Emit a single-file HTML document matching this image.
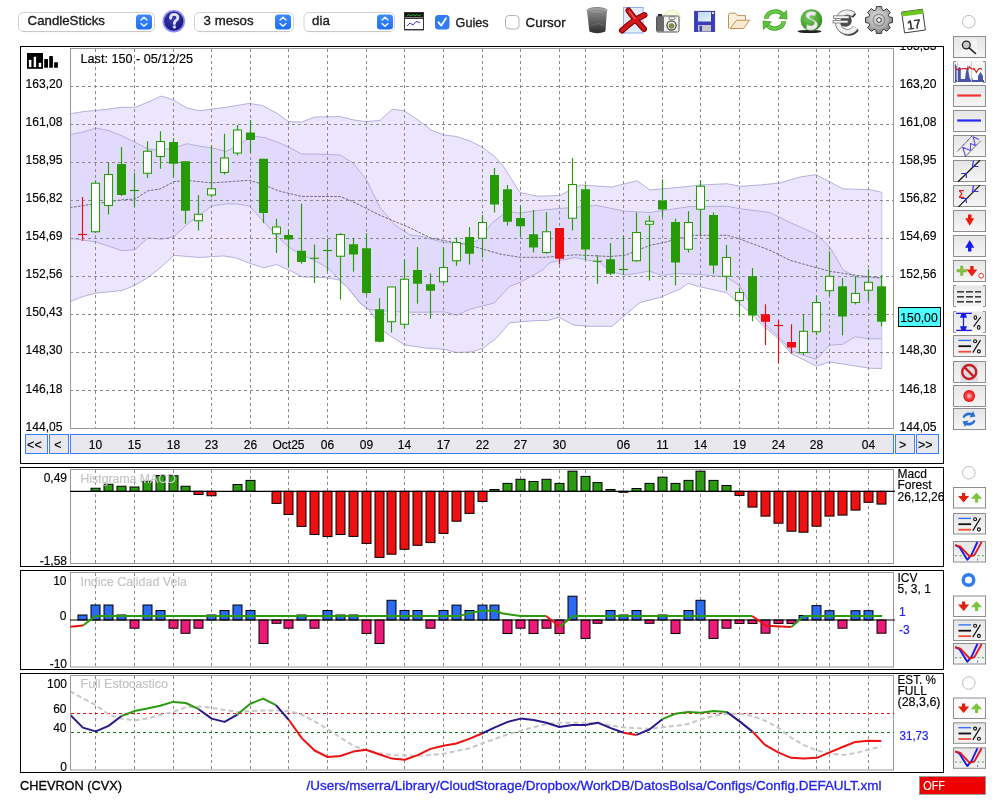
<!DOCTYPE html>
<html><head><meta charset="utf-8"><title>Chart</title>
<style>html,body{margin:0;padding:0;background:#fff;width:1000px;height:800px;overflow:hidden}svg{display:block;will-change:transform}text{font-family:"Liberation Sans",sans-serif}</style>
</head><body>
<svg width="1000" height="800" viewBox="0 0 1000 800">
<rect width="1000" height="800" fill="#fff"/>
<rect x="20.5" y="46.5" width="923" height="417" fill="none" stroke="#000" stroke-width="1"/>
<clipPath id="cpMain"><rect x="71" y="49" width="822" height="379"/></clipPath>
<g clip-path="url(#cpMain)">
<polygon points="70,113.8 83,111.7 109,109.1 122,107.3 135,107.3 148,102.1 161,96.1 172.7,99.5 187,108.1 200,110.7 226,107.3 249.4,103.4 262.4,105.5 278,113.8 288.4,121.6 301.4,122.1 315,117 340,116.6 354,120 366,121.6 380,120.4 392.4,109.2 404,110.8 418,120 431,130 444,135 456,136.4 470,141 482,147 494,156 502.5,165 520,192.5 537.5,196.25 560,195.5 580,185 612,187 637,180.75 650,190 690,186.25 700,185 727,183.75 740,186.25 760,185 780,183 800,177 816,174.7 843,188.9 870,189.7 881.8,192.3 881.8,368.5 869.2,368.2 842.6,364 829.3,362 816.4,366.2 803,359.4 791,353.4 777.5,337.7 764,326.5 752,314.5 740,304 726.5,292.7 699.5,286.7 688.2,283.3 680,289 660,297.5 640,302.5 612,326.25 587,326.25 573.4,325 559,317.3 547,320.6 536,320.6 520.6,321.7 509.6,322.8 496.4,338.2 483.2,348.1 472.2,351.8 456.8,352.5 443.6,349.2 426,348.1 404,344.8 384.2,331.6 368.8,309.6 360,303 347.8,287.8 339,279.9 325,277.6 302.3,276.9 291,271 276.7,264.5 263.7,267.9 249.4,263.2 236.4,258 223.4,255.9 200,257.5 174,255.4 161,267.1 148,277.5 135,285.3 122,290.5 96,293.1 83,296.5 70,301.7" fill="#ebe6fd" stroke="none"/>
<polygon points="70,134.6 83,132 96,128.1 109,130.7 122,135.9 135,142.4 148,148.9 158.4,150.2 174,148.1 187,143.7 200,146.3 213,148.1 226,151.5 239,145 252,135.9 265,137.7 278,142.4 291,148.1 301.4,154.1 317,154.1 340,155 353,163 366,179 380,207.5 395,225 410,235 420,236 432.5,239.5 445,242.5 460,243.75 477.5,241 492.5,222.5 502.5,215 512.5,212 520,213 537.5,210.5 560,208.5 597,205.5 625,211.25 650,212.5 690,206.5 727,206.25 740,208.75 770,212.5 790,222.5 816.7,234.3 830,247.4 843,269.7 856,277.1 881.8,278.1 881.8,338.8 869.2,338.8 855.2,336.7 842.6,344.4 829.3,345.1 816.4,359.4 803,355 791,350.5 777.5,335.5 764,323.5 752,307 740,286 726.5,277 699.5,274.5 675.5,273.5 662.5,275.5 649,271 636.5,273.5 625,275 610,271.25 600,262.5 575,257.5 550,262.5 542.6,270 520.6,282.1 509.6,286.5 494.2,303 470,309.2 456.8,315.1 443.6,311.8 426,312.2 404,312.2 382,310.7 368.8,309.6 360,303 347.8,287.8 339,279 330,269.7 319.6,263.2 304,255.4 291,248.9 278,237.2 263.7,221.6 249.4,206 236.4,203.9 226,203.9 211.7,206 187,224.2 174,236.7 161,239.3 148,237.7 135,249.7 122,250.7 96,241.9 70,238.5" fill="#e2dafc" stroke="none"/>
<polyline points="70,113.8 83,111.7 109,109.1 122,107.3 135,107.3 148,102.1 161,96.1 172.7,99.5 187,108.1 200,110.7 226,107.3 249.4,103.4 262.4,105.5 278,113.8 288.4,121.6 301.4,122.1 315,117 340,116.6 354,120 366,121.6 380,120.4 392.4,109.2 404,110.8 418,120 431,130 444,135 456,136.4 470,141 482,147 494,156 502.5,165 520,192.5 537.5,196.25 560,195.5 580,185 612,187 637,180.75 650,190 690,186.25 700,185 727,183.75 740,186.25 760,185 780,183 800,177 816,174.7 843,188.9 870,189.7 881.8,192.3" fill="none" stroke="#b2acdc" stroke-width="0.95"/>
<polyline points="70,134.6 83,132 96,128.1 109,130.7 122,135.9 135,142.4 148,148.9 158.4,150.2 174,148.1 187,143.7 200,146.3 213,148.1 226,151.5 239,145 252,135.9 265,137.7 278,142.4 291,148.1 301.4,154.1 317,154.1 340,155 353,163 366,179 380,207.5 395,225 410,235 420,236 432.5,239.5 445,242.5 460,243.75 477.5,241 492.5,222.5 502.5,215 512.5,212 520,213 537.5,210.5 560,208.5 597,205.5 625,211.25 650,212.5 690,206.5 727,206.25 740,208.75 770,212.5 790,222.5 816.7,234.3 830,247.4 843,269.7 856,277.1 881.8,278.1" fill="none" stroke="#b2acdc" stroke-width="0.95"/>
<polyline points="70,238.5 96,241.9 122,250.7 135,249.7 148,237.7 161,239.3 174,236.7 187,224.2 211.7,206 226,203.9 236.4,203.9 249.4,206 263.7,221.6 278,237.2 291,248.9 304,255.4 319.6,263.2 330,269.7 339,279 347.8,287.8 360,303 368.8,309.6 382,310.7 404,312.2 426,312.2 443.6,311.8 456.8,315.1 470,309.2 494.2,303 509.6,286.5 520.6,282.1 542.6,270 550,262.5 575,257.5 600,262.5 610,271.25 625,275 636.5,273.5 649,271 662.5,275.5 675.5,273.5 699.5,274.5 726.5,277 740,286 752,307 764,323.5 777.5,335.5 791,350.5 803,355 816.4,359.4 829.3,345.1 842.6,344.4 855.2,336.7 869.2,338.8 881.8,338.8" fill="none" stroke="#b2acdc" stroke-width="0.95"/>
<polyline points="70,301.7 83,296.5 96,293.1 122,290.5 135,285.3 148,277.5 161,267.1 174,255.4 200,257.5 223.4,255.9 236.4,258 249.4,263.2 263.7,267.9 276.7,264.5 291,271 302.3,276.9 325,277.6 339,279.9 347.8,287.8 360,303 368.8,309.6 384.2,331.6 404,344.8 426,348.1 443.6,349.2 456.8,352.5 472.2,351.8 483.2,348.1 496.4,338.2 509.6,322.8 520.6,321.7 536,320.6 547,320.6 559,317.3 573.4,325 587,326.25 612,326.25 640,302.5 660,297.5 680,289 688.2,283.3 699.5,286.7 726.5,292.7 740,304 752,314.5 764,326.5 777.5,337.7 791,353.4 803,359.4 816.4,366.2 829.3,362 842.6,364 869.2,368.2 881.8,368.5" fill="none" stroke="#b2acdc" stroke-width="0.95"/>
<line x1="881.8" y1="192.3" x2="881.8" y2="368.5" stroke="#c4bfe6" stroke-width="1"/>
<line x1="70" y1="390.5" x2="894" y2="390.5" stroke="#8a8a8a" stroke-width="1" stroke-dasharray="3 3"/>
<line x1="70" y1="352.5" x2="894" y2="352.5" stroke="#8a8a8a" stroke-width="1" stroke-dasharray="3 3"/>
<line x1="70" y1="314.5" x2="894" y2="314.5" stroke="#8a8a8a" stroke-width="1" stroke-dasharray="3 3"/>
<line x1="70" y1="276.5" x2="894" y2="276.5" stroke="#8a8a8a" stroke-width="1" stroke-dasharray="3 3"/>
<line x1="70" y1="238.5" x2="894" y2="238.5" stroke="#8a8a8a" stroke-width="1" stroke-dasharray="3 3"/>
<line x1="70" y1="200.5" x2="894" y2="200.5" stroke="#8a8a8a" stroke-width="1" stroke-dasharray="3 3"/>
<line x1="70" y1="162.5" x2="894" y2="162.5" stroke="#8a8a8a" stroke-width="1" stroke-dasharray="3 3"/>
<line x1="70" y1="124.5" x2="894" y2="124.5" stroke="#8a8a8a" stroke-width="1" stroke-dasharray="3 3"/>
<line x1="70" y1="86.5" x2="894" y2="86.5" stroke="#8a8a8a" stroke-width="1" stroke-dasharray="3 3"/>
<line x1="95.5" y1="49" x2="95.5" y2="428" stroke="#8a8a8a" stroke-width="1" stroke-dasharray="3 3"/>
<line x1="134.5" y1="49" x2="134.5" y2="428" stroke="#8a8a8a" stroke-width="1" stroke-dasharray="3 3"/>
<line x1="173.5" y1="49" x2="173.5" y2="428" stroke="#8a8a8a" stroke-width="1" stroke-dasharray="3 3"/>
<line x1="211.5" y1="49" x2="211.5" y2="428" stroke="#8a8a8a" stroke-width="1" stroke-dasharray="3 3"/>
<line x1="250.5" y1="49" x2="250.5" y2="428" stroke="#8a8a8a" stroke-width="1" stroke-dasharray="3 3"/>
<line x1="288.5" y1="49" x2="288.5" y2="428" stroke="#8a8a8a" stroke-width="1" stroke-dasharray="3 3"/>
<line x1="327.5" y1="49" x2="327.5" y2="428" stroke="#8a8a8a" stroke-width="1" stroke-dasharray="3 3"/>
<line x1="366.5" y1="49" x2="366.5" y2="428" stroke="#8a8a8a" stroke-width="1" stroke-dasharray="3 3"/>
<line x1="404.5" y1="49" x2="404.5" y2="428" stroke="#8a8a8a" stroke-width="1" stroke-dasharray="3 3"/>
<line x1="443.5" y1="49" x2="443.5" y2="428" stroke="#8a8a8a" stroke-width="1" stroke-dasharray="3 3"/>
<line x1="482.5" y1="49" x2="482.5" y2="428" stroke="#8a8a8a" stroke-width="1" stroke-dasharray="3 3"/>
<line x1="520.5" y1="49" x2="520.5" y2="428" stroke="#8a8a8a" stroke-width="1" stroke-dasharray="3 3"/>
<line x1="559.5" y1="49" x2="559.5" y2="428" stroke="#8a8a8a" stroke-width="1" stroke-dasharray="3 3"/>
<line x1="585.5" y1="49" x2="585.5" y2="428" stroke="#8a8a8a" stroke-width="1" stroke-dasharray="3 3"/>
<line x1="623.5" y1="49" x2="623.5" y2="428" stroke="#8a8a8a" stroke-width="1" stroke-dasharray="3 3"/>
<line x1="662.5" y1="49" x2="662.5" y2="428" stroke="#8a8a8a" stroke-width="1" stroke-dasharray="3 3"/>
<line x1="700.5" y1="49" x2="700.5" y2="428" stroke="#8a8a8a" stroke-width="1" stroke-dasharray="3 3"/>
<line x1="739.5" y1="49" x2="739.5" y2="428" stroke="#8a8a8a" stroke-width="1" stroke-dasharray="3 3"/>
<line x1="778.5" y1="49" x2="778.5" y2="428" stroke="#8a8a8a" stroke-width="1" stroke-dasharray="3 3"/>
<line x1="816.5" y1="49" x2="816.5" y2="428" stroke="#8a8a8a" stroke-width="1" stroke-dasharray="3 3"/>
<line x1="829.5" y1="49" x2="829.5" y2="428" stroke="#8a8a8a" stroke-width="1" stroke-dasharray="3 3"/>
<line x1="868.5" y1="49" x2="868.5" y2="428" stroke="#8a8a8a" stroke-width="1" stroke-dasharray="3 3"/>
<polyline points="70,207.6 96,203.7 122,199.8 135,199 148,190.7 160,189.05 174,181.6 186,180.3 211.7,182.9 249.4,180.3 262.4,184.2 278,190.7 301.4,196.4 340,196.55 350,200.3 380,215.3 410,227.8 430,237.8 440,239.8 470,245.3 500,254.05 520,257.3 545,257.3 575,254.8 610,256.55 625,255.3 650,245.3 665,242.3 690,235.3 700,235.3 727,235.3 740,239.05 770,250.3 790,260.3 806,264.8 830,271.3 856,275.3 881.8,277.9" fill="none" stroke="#6e6c7c" stroke-width="1" stroke-dasharray="2.7 1.3"/>
<line x1="82.5" y1="197" x2="82.5" y2="240.75" stroke="#ee0b0b" stroke-width="1.15"/>
<line x1="78" y1="234.5" x2="87" y2="234.5" stroke="#ee0b0b" stroke-width="1.15"/>
<line x1="95.5" y1="180.5" x2="95.5" y2="233" stroke="#279b06" stroke-width="1.15"/>
<rect x="91.5" y="183.25" width="8" height="48.5" fill="#fff" stroke="#279b06" stroke-width="1.05"/>
<line x1="108.5" y1="162.5" x2="108.5" y2="214.5" stroke="#279b06" stroke-width="1.15"/>
<rect x="104.5" y="174.5" width="8" height="31" fill="#fff" stroke="#279b06" stroke-width="1.05"/>
<line x1="121.5" y1="147" x2="121.5" y2="196" stroke="#279b06" stroke-width="1.15"/>
<rect x="117" y="164" width="9" height="31" fill="#279b06"/>
<line x1="134.5" y1="173" x2="134.5" y2="207" stroke="#279b06" stroke-width="1.15"/>
<line x1="130" y1="190.5" x2="139" y2="190.5" stroke="#279b06" stroke-width="1.15"/>
<line x1="147.5" y1="141.25" x2="147.5" y2="178" stroke="#279b06" stroke-width="1.15"/>
<rect x="143.5" y="151.25" width="8" height="22" fill="#fff" stroke="#279b06" stroke-width="1.05"/>
<line x1="160.5" y1="131.25" x2="160.5" y2="168.75" stroke="#279b06" stroke-width="1.15"/>
<rect x="156.5" y="141.5" width="8" height="15" fill="#fff" stroke="#279b06" stroke-width="1.05"/>
<line x1="173.5" y1="138.25" x2="173.5" y2="177.5" stroke="#279b06" stroke-width="1.15"/>
<rect x="169" y="142" width="9" height="21.75" fill="#279b06"/>
<line x1="185.5" y1="161.25" x2="185.5" y2="223.75" stroke="#279b06" stroke-width="1.15"/>
<rect x="181" y="161.25" width="9" height="49.5" fill="#279b06"/>
<line x1="198.5" y1="195" x2="198.5" y2="230.5" stroke="#279b06" stroke-width="1.15"/>
<rect x="194.5" y="214.25" width="8" height="6.5" fill="#fff" stroke="#279b06" stroke-width="1.05"/>
<line x1="211.5" y1="145.75" x2="211.5" y2="197.5" stroke="#279b06" stroke-width="1.15"/>
<rect x="207.5" y="188.75" width="8" height="6.25" fill="#fff" stroke="#279b06" stroke-width="1.05"/>
<line x1="224.5" y1="133.75" x2="224.5" y2="174.5" stroke="#279b06" stroke-width="1.15"/>
<rect x="220.5" y="158" width="8" height="14.5" fill="#fff" stroke="#279b06" stroke-width="1.05"/>
<line x1="237.5" y1="125" x2="237.5" y2="155.5" stroke="#279b06" stroke-width="1.15"/>
<rect x="233.5" y="130" width="8" height="23" fill="#fff" stroke="#279b06" stroke-width="1.05"/>
<line x1="250.5" y1="120" x2="250.5" y2="153.25" stroke="#279b06" stroke-width="1.15"/>
<rect x="246" y="132.5" width="9" height="7.5" fill="#279b06"/>
<line x1="263.5" y1="158.75" x2="263.5" y2="223" stroke="#279b06" stroke-width="1.15"/>
<rect x="259" y="158.75" width="9" height="54.25" fill="#279b06"/>
<line x1="276.5" y1="218.75" x2="276.5" y2="253" stroke="#279b06" stroke-width="1.15"/>
<rect x="272.5" y="227" width="8" height="6.75" fill="#fff" stroke="#279b06" stroke-width="1.05"/>
<line x1="288.5" y1="230" x2="288.5" y2="267" stroke="#279b06" stroke-width="1.15"/>
<rect x="284" y="235" width="9" height="4.5" fill="#279b06"/>
<line x1="301.5" y1="203.75" x2="301.5" y2="263.75" stroke="#279b06" stroke-width="1.15"/>
<rect x="297" y="250.75" width="9" height="11.25" fill="#279b06"/>
<line x1="314.5" y1="244.5" x2="314.5" y2="283" stroke="#279b06" stroke-width="1.15"/>
<line x1="310" y1="258.25" x2="319" y2="258.25" stroke="#279b06" stroke-width="1.15"/>
<line x1="327.5" y1="238.75" x2="327.5" y2="271.25" stroke="#279b06" stroke-width="1.15"/>
<line x1="323" y1="250.5" x2="332" y2="250.5" stroke="#279b06" stroke-width="1.15"/>
<line x1="340.5" y1="233.25" x2="340.5" y2="299.5" stroke="#279b06" stroke-width="1.15"/>
<rect x="336.5" y="234.5" width="8" height="21.75" fill="#fff" stroke="#279b06" stroke-width="1.05"/>
<line x1="353.5" y1="238" x2="353.5" y2="271.75" stroke="#279b06" stroke-width="1.15"/>
<rect x="349" y="244.25" width="9" height="10.25" fill="#279b06"/>
<line x1="366.5" y1="233.25" x2="366.5" y2="295" stroke="#279b06" stroke-width="1.15"/>
<rect x="362" y="248.25" width="9" height="44.75" fill="#279b06"/>
<line x1="379.5" y1="298.25" x2="379.5" y2="342.5" stroke="#279b06" stroke-width="1.15"/>
<rect x="375" y="309.25" width="9" height="32.5" fill="#279b06"/>
<line x1="391.5" y1="287" x2="391.5" y2="332.5" stroke="#279b06" stroke-width="1.15"/>
<rect x="387.5" y="287" width="8" height="34.75" fill="#fff" stroke="#279b06" stroke-width="1.05"/>
<line x1="404.5" y1="259.5" x2="404.5" y2="328.75" stroke="#279b06" stroke-width="1.15"/>
<rect x="400.5" y="279.25" width="8" height="45" fill="#fff" stroke="#279b06" stroke-width="1.05"/>
<line x1="417.5" y1="247" x2="417.5" y2="303.75" stroke="#279b06" stroke-width="1.15"/>
<rect x="413" y="270" width="9" height="13.75" fill="#279b06"/>
<line x1="430.5" y1="273.25" x2="430.5" y2="318.75" stroke="#279b06" stroke-width="1.15"/>
<rect x="426" y="284.25" width="9" height="6.5" fill="#279b06"/>
<line x1="443.5" y1="247.5" x2="443.5" y2="283.75" stroke="#279b06" stroke-width="1.15"/>
<rect x="439.5" y="267.5" width="8" height="14.25" fill="#fff" stroke="#279b06" stroke-width="1.05"/>
<line x1="456.5" y1="237.5" x2="456.5" y2="265.75" stroke="#279b06" stroke-width="1.15"/>
<rect x="452.5" y="242.5" width="8" height="18.25" fill="#fff" stroke="#279b06" stroke-width="1.05"/>
<line x1="469.5" y1="227" x2="469.5" y2="264.5" stroke="#279b06" stroke-width="1.15"/>
<rect x="465" y="237" width="9" height="16.75" fill="#279b06"/>
<line x1="482.5" y1="215" x2="482.5" y2="257.5" stroke="#279b06" stroke-width="1.15"/>
<rect x="478.5" y="222.5" width="8" height="15.75" fill="#fff" stroke="#279b06" stroke-width="1.05"/>
<line x1="494.5" y1="168" x2="494.5" y2="212.5" stroke="#279b06" stroke-width="1.15"/>
<rect x="490" y="175" width="9" height="29.5" fill="#279b06"/>
<line x1="507.5" y1="185" x2="507.5" y2="225.5" stroke="#279b06" stroke-width="1.15"/>
<rect x="503" y="189.25" width="9" height="32.5" fill="#279b06"/>
<line x1="520.5" y1="205.5" x2="520.5" y2="236.25" stroke="#279b06" stroke-width="1.15"/>
<rect x="516" y="218" width="9" height="8.25" fill="#279b06"/>
<line x1="533.5" y1="210" x2="533.5" y2="252.5" stroke="#279b06" stroke-width="1.15"/>
<rect x="529" y="234.25" width="9" height="13.25" fill="#279b06"/>
<line x1="546.5" y1="212" x2="546.5" y2="253.75" stroke="#279b06" stroke-width="1.15"/>
<rect x="542.5" y="231.75" width="8" height="20.75" fill="#fff" stroke="#279b06" stroke-width="1.05"/>
<line x1="559.5" y1="228" x2="559.5" y2="264.5" stroke="#ee0b0b" stroke-width="1.15"/>
<rect x="555" y="228" width="9" height="30.75" fill="#ee0b0b"/>
<line x1="572.5" y1="158" x2="572.5" y2="230.5" stroke="#279b06" stroke-width="1.15"/>
<rect x="568.5" y="184.5" width="8" height="33.75" fill="#fff" stroke="#279b06" stroke-width="1.05"/>
<line x1="585.5" y1="184.5" x2="585.5" y2="260" stroke="#279b06" stroke-width="1.15"/>
<rect x="581" y="189.25" width="9" height="60.25" fill="#279b06"/>
<line x1="597.5" y1="255" x2="597.5" y2="283.75" stroke="#279b06" stroke-width="1.15"/>
<line x1="593" y1="261.25" x2="602" y2="261.25" stroke="#279b06" stroke-width="1.15"/>
<line x1="610.5" y1="243" x2="610.5" y2="275" stroke="#279b06" stroke-width="1.15"/>
<rect x="606" y="259.25" width="9" height="14.5" fill="#279b06"/>
<line x1="623.5" y1="235.5" x2="623.5" y2="275" stroke="#279b06" stroke-width="1.15"/>
<line x1="619" y1="269.5" x2="628" y2="269.5" stroke="#279b06" stroke-width="1.15"/>
<line x1="636.5" y1="212.5" x2="636.5" y2="261.75" stroke="#279b06" stroke-width="1.15"/>
<rect x="632.5" y="232.5" width="8" height="28.25" fill="#fff" stroke="#279b06" stroke-width="1.05"/>
<line x1="649.5" y1="215.5" x2="649.5" y2="280.5" stroke="#279b06" stroke-width="1.15"/>
<rect x="645.5" y="221.25" width="8" height="3" fill="#fff" stroke="#279b06" stroke-width="1.05"/>
<line x1="662.5" y1="179.25" x2="662.5" y2="217" stroke="#279b06" stroke-width="1.15"/>
<rect x="658" y="200.5" width="9" height="9" fill="#279b06"/>
<line x1="675.5" y1="218.75" x2="675.5" y2="285.5" stroke="#279b06" stroke-width="1.15"/>
<rect x="671" y="222" width="9" height="40.5" fill="#279b06"/>
<line x1="688.5" y1="211.25" x2="688.5" y2="252.5" stroke="#279b06" stroke-width="1.15"/>
<rect x="684.5" y="222.5" width="8" height="26.75" fill="#fff" stroke="#279b06" stroke-width="1.05"/>
<line x1="700.5" y1="180" x2="700.5" y2="235" stroke="#279b06" stroke-width="1.15"/>
<rect x="696.5" y="186.25" width="8" height="23" fill="#fff" stroke="#279b06" stroke-width="1.05"/>
<line x1="713.5" y1="212.5" x2="713.5" y2="273.75" stroke="#279b06" stroke-width="1.15"/>
<rect x="709" y="215" width="9" height="50.5" fill="#279b06"/>
<line x1="726.5" y1="245" x2="726.5" y2="290.5" stroke="#279b06" stroke-width="1.15"/>
<rect x="722.5" y="257.5" width="8" height="18.75" fill="#fff" stroke="#279b06" stroke-width="1.05"/>
<line x1="739.5" y1="287.5" x2="739.5" y2="317.5" stroke="#279b06" stroke-width="1.15"/>
<rect x="735.5" y="292.5" width="8" height="8" fill="#fff" stroke="#279b06" stroke-width="1.05"/>
<line x1="752.5" y1="268" x2="752.5" y2="321.25" stroke="#279b06" stroke-width="1.15"/>
<rect x="748" y="276.25" width="9" height="39.25" fill="#279b06"/>
<line x1="765.5" y1="304.25" x2="765.5" y2="345" stroke="#ee0b0b" stroke-width="1.15"/>
<rect x="761" y="314.25" width="9" height="7.5" fill="#ee0b0b"/>
<line x1="778.5" y1="320" x2="778.5" y2="363.3" stroke="#ee0b0b" stroke-width="1.15"/>
<line x1="774" y1="325.5" x2="783" y2="325.5" stroke="#ee0b0b" stroke-width="1.15"/>
<line x1="791.5" y1="324.25" x2="791.5" y2="353.5" stroke="#ee0b0b" stroke-width="1.15"/>
<rect x="787" y="342" width="9" height="5.5" fill="#ee0b0b"/>
<line x1="803.5" y1="314.3" x2="803.5" y2="355" stroke="#279b06" stroke-width="1.15"/>
<rect x="799.5" y="331.3" width="8" height="21.2" fill="#fff" stroke="#279b06" stroke-width="1.05"/>
<line x1="816.5" y1="295.6" x2="816.5" y2="335.2" stroke="#279b06" stroke-width="1.15"/>
<rect x="812.5" y="302.5" width="8" height="29.2" fill="#fff" stroke="#279b06" stroke-width="1.05"/>
<line x1="829.5" y1="251.4" x2="829.5" y2="296" stroke="#279b06" stroke-width="1.15"/>
<rect x="825.5" y="276.3" width="8" height="14.4" fill="#fff" stroke="#279b06" stroke-width="1.05"/>
<line x1="842.5" y1="278.1" x2="842.5" y2="335.4" stroke="#279b06" stroke-width="1.15"/>
<rect x="838" y="286.3" width="9" height="30.2" fill="#279b06"/>
<line x1="855.5" y1="276.3" x2="855.5" y2="304.4" stroke="#279b06" stroke-width="1.15"/>
<rect x="851.5" y="293.4" width="8" height="9.1" fill="#fff" stroke="#279b06" stroke-width="1.05"/>
<line x1="868.5" y1="269.2" x2="868.5" y2="301.2" stroke="#279b06" stroke-width="1.15"/>
<rect x="864.5" y="282.3" width="8" height="7.9" fill="#fff" stroke="#279b06" stroke-width="1.05"/>
<line x1="881.5" y1="275" x2="881.5" y2="326.2" stroke="#279b06" stroke-width="1.15"/>
<rect x="877" y="286.3" width="9" height="35.4" fill="#279b06"/>
</g>
<rect x="70.5" y="48.5" width="823" height="380" fill="none" stroke="#999" stroke-width="1"/>
<clipPath id="cpMainF"><rect x="21" y="47" width="922" height="416"/></clipPath>
<g clip-path="url(#cpMainF)" font-family='"Liberation Sans", sans-serif'>
<text x="62.5" y="430.6" font-size="12" fill="#000" stroke="#000" stroke-width="0.15" text-anchor="end" textLength="37" lengthAdjust="spacingAndGlyphs" >144,05</text>
<text x="899.5" y="430.6" font-size="12" fill="#000" stroke="#000" stroke-width="0.15" text-anchor="start" textLength="37" lengthAdjust="spacingAndGlyphs" >144,05</text>
<text x="62.5" y="392.53" font-size="12" fill="#000" stroke="#000" stroke-width="0.15" text-anchor="end" textLength="37" lengthAdjust="spacingAndGlyphs" >146,18</text>
<text x="899.5" y="392.53" font-size="12" fill="#000" stroke="#000" stroke-width="0.15" text-anchor="start" textLength="37" lengthAdjust="spacingAndGlyphs" >146,18</text>
<text x="62.5" y="354.46" font-size="12" fill="#000" stroke="#000" stroke-width="0.15" text-anchor="end" textLength="37" lengthAdjust="spacingAndGlyphs" >148,30</text>
<text x="899.5" y="354.46" font-size="12" fill="#000" stroke="#000" stroke-width="0.15" text-anchor="start" textLength="37" lengthAdjust="spacingAndGlyphs" >148,30</text>
<text x="62.5" y="316.39" font-size="12" fill="#000" stroke="#000" stroke-width="0.15" text-anchor="end" textLength="37" lengthAdjust="spacingAndGlyphs" >150,43</text>
<text x="899.5" y="316.39" font-size="12" fill="#000" stroke="#000" stroke-width="0.15" text-anchor="start" textLength="37" lengthAdjust="spacingAndGlyphs" >150,43</text>
<text x="62.5" y="278.32" font-size="12" fill="#000" stroke="#000" stroke-width="0.15" text-anchor="end" textLength="37" lengthAdjust="spacingAndGlyphs" >152,56</text>
<text x="899.5" y="278.32" font-size="12" fill="#000" stroke="#000" stroke-width="0.15" text-anchor="start" textLength="37" lengthAdjust="spacingAndGlyphs" >152,56</text>
<text x="62.5" y="240.25" font-size="12" fill="#000" stroke="#000" stroke-width="0.15" text-anchor="end" textLength="37" lengthAdjust="spacingAndGlyphs" >154,69</text>
<text x="899.5" y="240.25" font-size="12" fill="#000" stroke="#000" stroke-width="0.15" text-anchor="start" textLength="37" lengthAdjust="spacingAndGlyphs" >154,69</text>
<text x="62.5" y="202.18" font-size="12" fill="#000" stroke="#000" stroke-width="0.15" text-anchor="end" textLength="37" lengthAdjust="spacingAndGlyphs" >156,82</text>
<text x="899.5" y="202.18" font-size="12" fill="#000" stroke="#000" stroke-width="0.15" text-anchor="start" textLength="37" lengthAdjust="spacingAndGlyphs" >156,82</text>
<text x="62.5" y="164.11" font-size="12" fill="#000" stroke="#000" stroke-width="0.15" text-anchor="end" textLength="37" lengthAdjust="spacingAndGlyphs" >158,95</text>
<text x="899.5" y="164.11" font-size="12" fill="#000" stroke="#000" stroke-width="0.15" text-anchor="start" textLength="37" lengthAdjust="spacingAndGlyphs" >158,95</text>
<text x="62.5" y="126.04" font-size="12" fill="#000" stroke="#000" stroke-width="0.15" text-anchor="end" textLength="37" lengthAdjust="spacingAndGlyphs" >161,08</text>
<text x="899.5" y="126.04" font-size="12" fill="#000" stroke="#000" stroke-width="0.15" text-anchor="start" textLength="37" lengthAdjust="spacingAndGlyphs" >161,08</text>
<text x="62.5" y="87.97" font-size="12" fill="#000" stroke="#000" stroke-width="0.15" text-anchor="end" textLength="37" lengthAdjust="spacingAndGlyphs" >163,20</text>
<text x="899.5" y="87.97" font-size="12" fill="#000" stroke="#000" stroke-width="0.15" text-anchor="start" textLength="37" lengthAdjust="spacingAndGlyphs" >163,20</text>
<text x="899.5" y="49.9" font-size="12" fill="#000" stroke="#000" stroke-width="0.15" text-anchor="start" textLength="37" lengthAdjust="spacingAndGlyphs" >165,33</text>
</g>
<rect x="27" y="53" width="16" height="15.8" fill="#000"/>
<rect x="28.9" y="59.8" width="2.5" height="7.3" fill="#fff"/>
<rect x="33.7" y="56.8" width="2.4" height="10.3" fill="#fff"/>
<rect x="38.7" y="62.8" width="2.5" height="4.3" fill="#fff"/>
<rect x="44.2" y="59.1" width="3.8" height="8.7" rx="0.6" fill="#000"/>
<rect x="49.2" y="56.1" width="3.7" height="11.7" rx="0.6" fill="#000"/>
<rect x="54.1" y="62.2" width="3.8" height="5.6" rx="0.6" fill="#000"/>
<g font-family='"Liberation Sans", sans-serif'>
<text x="80.5" y="63" font-size="12" fill="#000" stroke="#000" stroke-width="0.15" text-anchor="start" textLength="112.5" lengthAdjust="spacingAndGlyphs" >Last: 150 - 05/12/25</text>
</g>
<rect x="898.5" y="307.5" width="42" height="19" fill="#4dffff" stroke="#000" stroke-width="1"/>
<g font-family='"Liberation Sans", sans-serif'>
<text x="900.3" y="322" font-size="13" fill="#000" stroke="#000" stroke-width="0.15" text-anchor="start" textLength="37.4" lengthAdjust="spacingAndGlyphs" >150,00</text>
</g>
<rect x="25.5" y="434.5" width="22" height="19" fill="#e8e8ee" stroke="#3d7df5"/>
<rect x="49.5" y="434.5" width="19" height="19" fill="#e8e8ee" stroke="#3d7df5"/>
<rect x="70.5" y="434.5" width="823" height="19" fill="#e8e8ee" stroke="#3d7df5"/>
<rect x="895.5" y="434.5" width="19" height="19" fill="#e8e8ee" stroke="#3d7df5"/>
<rect x="916.5" y="434.5" width="22" height="19" fill="#e8e8ee" stroke="#3d7df5"/>
<g font-family='"Liberation Sans", sans-serif' font-size="12">
<text x="34.4" y="449" font-size="12.5" fill="#000" stroke="#000" stroke-width="0.15" text-anchor="middle" >&lt;&lt;</text>
<text x="57.8" y="449" font-size="12.5" fill="#000" stroke="#000" stroke-width="0.15" text-anchor="middle" >&lt;</text>
<text x="902.7" y="449" font-size="12.5" fill="#000" stroke="#000" stroke-width="0.15" text-anchor="middle" >&gt;</text>
<text x="925.3" y="449" font-size="12.5" fill="#000" stroke="#000" stroke-width="0.15" text-anchor="middle" >&gt;&gt;</text>
<text x="95.5" y="449" font-size="12" fill="#000" stroke="#000" stroke-width="0.15" text-anchor="middle" >10</text>
<text x="134.5" y="449" font-size="12" fill="#000" stroke="#000" stroke-width="0.15" text-anchor="middle" >15</text>
<text x="173.5" y="449" font-size="12" fill="#000" stroke="#000" stroke-width="0.15" text-anchor="middle" >18</text>
<text x="211.5" y="449" font-size="12" fill="#000" stroke="#000" stroke-width="0.15" text-anchor="middle" >23</text>
<text x="250.5" y="449" font-size="12" fill="#000" stroke="#000" stroke-width="0.15" text-anchor="middle" >26</text>
<text x="288.5" y="449" font-size="12" fill="#000" stroke="#000" stroke-width="0.15" text-anchor="middle" >Oct25</text>
<text x="327.5" y="449" font-size="12" fill="#000" stroke="#000" stroke-width="0.15" text-anchor="middle" >06</text>
<text x="366.5" y="449" font-size="12" fill="#000" stroke="#000" stroke-width="0.15" text-anchor="middle" >09</text>
<text x="404.5" y="449" font-size="12" fill="#000" stroke="#000" stroke-width="0.15" text-anchor="middle" >14</text>
<text x="443.5" y="449" font-size="12" fill="#000" stroke="#000" stroke-width="0.15" text-anchor="middle" >17</text>
<text x="482.5" y="449" font-size="12" fill="#000" stroke="#000" stroke-width="0.15" text-anchor="middle" >22</text>
<text x="520.5" y="449" font-size="12" fill="#000" stroke="#000" stroke-width="0.15" text-anchor="middle" >27</text>
<text x="559.5" y="449" font-size="12" fill="#000" stroke="#000" stroke-width="0.15" text-anchor="middle" >30</text>
<text x="623.5" y="449" font-size="12" fill="#000" stroke="#000" stroke-width="0.15" text-anchor="middle" >06</text>
<text x="662.5" y="449" font-size="12" fill="#000" stroke="#000" stroke-width="0.15" text-anchor="middle" >11</text>
<text x="700.5" y="449" font-size="12" fill="#000" stroke="#000" stroke-width="0.15" text-anchor="middle" >14</text>
<text x="739.5" y="449" font-size="12" fill="#000" stroke="#000" stroke-width="0.15" text-anchor="middle" >19</text>
<text x="778.5" y="449" font-size="12" fill="#000" stroke="#000" stroke-width="0.15" text-anchor="middle" >24</text>
<text x="816.5" y="449" font-size="12" fill="#000" stroke="#000" stroke-width="0.15" text-anchor="middle" >28</text>
<text x="868.5" y="449" font-size="12" fill="#000" stroke="#000" stroke-width="0.15" text-anchor="middle" >04</text>
</g>
<rect x="20.5" y="467.5" width="923" height="99" fill="none" stroke="#000" stroke-width="1"/>
<rect x="70.5" y="469.5" width="823" height="94" fill="none" stroke="#999" stroke-width="1"/>
<line x1="95.5" y1="470" x2="95.5" y2="563" stroke="#8a8a8a" stroke-width="1" stroke-dasharray="3 3"/>
<line x1="134.5" y1="470" x2="134.5" y2="563" stroke="#8a8a8a" stroke-width="1" stroke-dasharray="3 3"/>
<line x1="173.5" y1="470" x2="173.5" y2="563" stroke="#8a8a8a" stroke-width="1" stroke-dasharray="3 3"/>
<line x1="211.5" y1="470" x2="211.5" y2="563" stroke="#8a8a8a" stroke-width="1" stroke-dasharray="3 3"/>
<line x1="250.5" y1="470" x2="250.5" y2="563" stroke="#8a8a8a" stroke-width="1" stroke-dasharray="3 3"/>
<line x1="288.5" y1="470" x2="288.5" y2="563" stroke="#8a8a8a" stroke-width="1" stroke-dasharray="3 3"/>
<line x1="327.5" y1="470" x2="327.5" y2="563" stroke="#8a8a8a" stroke-width="1" stroke-dasharray="3 3"/>
<line x1="366.5" y1="470" x2="366.5" y2="563" stroke="#8a8a8a" stroke-width="1" stroke-dasharray="3 3"/>
<line x1="404.5" y1="470" x2="404.5" y2="563" stroke="#8a8a8a" stroke-width="1" stroke-dasharray="3 3"/>
<line x1="443.5" y1="470" x2="443.5" y2="563" stroke="#8a8a8a" stroke-width="1" stroke-dasharray="3 3"/>
<line x1="482.5" y1="470" x2="482.5" y2="563" stroke="#8a8a8a" stroke-width="1" stroke-dasharray="3 3"/>
<line x1="520.5" y1="470" x2="520.5" y2="563" stroke="#8a8a8a" stroke-width="1" stroke-dasharray="3 3"/>
<line x1="559.5" y1="470" x2="559.5" y2="563" stroke="#8a8a8a" stroke-width="1" stroke-dasharray="3 3"/>
<line x1="585.5" y1="470" x2="585.5" y2="563" stroke="#8a8a8a" stroke-width="1" stroke-dasharray="3 3"/>
<line x1="623.5" y1="470" x2="623.5" y2="563" stroke="#8a8a8a" stroke-width="1" stroke-dasharray="3 3"/>
<line x1="662.5" y1="470" x2="662.5" y2="563" stroke="#8a8a8a" stroke-width="1" stroke-dasharray="3 3"/>
<line x1="700.5" y1="470" x2="700.5" y2="563" stroke="#8a8a8a" stroke-width="1" stroke-dasharray="3 3"/>
<line x1="739.5" y1="470" x2="739.5" y2="563" stroke="#8a8a8a" stroke-width="1" stroke-dasharray="3 3"/>
<line x1="778.5" y1="470" x2="778.5" y2="563" stroke="#8a8a8a" stroke-width="1" stroke-dasharray="3 3"/>
<line x1="816.5" y1="470" x2="816.5" y2="563" stroke="#8a8a8a" stroke-width="1" stroke-dasharray="3 3"/>
<line x1="829.5" y1="470" x2="829.5" y2="563" stroke="#8a8a8a" stroke-width="1" stroke-dasharray="3 3"/>
<line x1="868.5" y1="470" x2="868.5" y2="563" stroke="#8a8a8a" stroke-width="1" stroke-dasharray="3 3"/>
<rect x="91" y="488.25" width="9" height="3.05" fill="#2a9a10" stroke="#000" stroke-width="1"/>
<rect x="104" y="484.25" width="9" height="7.05" fill="#2a9a10" stroke="#000" stroke-width="1"/>
<rect x="117" y="486.25" width="9" height="5.05" fill="#2a9a10" stroke="#000" stroke-width="1"/>
<rect x="130" y="487" width="9" height="4.3" fill="#2a9a10" stroke="#000" stroke-width="1"/>
<rect x="143" y="481.25" width="9" height="10.05" fill="#2a9a10" stroke="#000" stroke-width="1"/>
<rect x="156" y="475.5" width="9" height="15.8" fill="#2a9a10" stroke="#000" stroke-width="1"/>
<rect x="169" y="475.75" width="9" height="15.55" fill="#2a9a10" stroke="#000" stroke-width="1"/>
<rect x="181" y="486.25" width="9" height="5.05" fill="#2a9a10" stroke="#000" stroke-width="1"/>
<rect x="194" y="491.3" width="9" height="3.2" fill="#ee1111" stroke="#000" stroke-width="1"/>
<rect x="207" y="491.3" width="9" height="4.45" fill="#ee1111" stroke="#000" stroke-width="1"/>
<rect x="233" y="484.5" width="9" height="6.8" fill="#2a9a10" stroke="#000" stroke-width="1"/>
<rect x="246" y="480.4" width="9" height="10.9" fill="#2a9a10" stroke="#000" stroke-width="1"/>
<rect x="272" y="491.3" width="9" height="12.1" fill="#ee1111" stroke="#000" stroke-width="1"/>
<rect x="284" y="491.3" width="9" height="23.2" fill="#ee1111" stroke="#000" stroke-width="1"/>
<rect x="297" y="491.3" width="9" height="35.1" fill="#ee1111" stroke="#000" stroke-width="1"/>
<rect x="310" y="491.3" width="9" height="43.2" fill="#ee1111" stroke="#000" stroke-width="1"/>
<rect x="323" y="491.3" width="9" height="45.3" fill="#ee1111" stroke="#000" stroke-width="1"/>
<rect x="336" y="491.3" width="9" height="43.2" fill="#ee1111" stroke="#000" stroke-width="1"/>
<rect x="349" y="491.3" width="9" height="45.1" fill="#ee1111" stroke="#000" stroke-width="1"/>
<rect x="362" y="491.3" width="9" height="52.1" fill="#ee1111" stroke="#000" stroke-width="1"/>
<rect x="375" y="491.3" width="9" height="66.1" fill="#ee1111" stroke="#000" stroke-width="1"/>
<rect x="387" y="491.3" width="9" height="62.9" fill="#ee1111" stroke="#000" stroke-width="1"/>
<rect x="400" y="491.3" width="9" height="58" fill="#ee1111" stroke="#000" stroke-width="1"/>
<rect x="413" y="491.3" width="9" height="54" fill="#ee1111" stroke="#000" stroke-width="1"/>
<rect x="426" y="491.3" width="9" height="51.3" fill="#ee1111" stroke="#000" stroke-width="1"/>
<rect x="439" y="491.3" width="9" height="42.1" fill="#ee1111" stroke="#000" stroke-width="1"/>
<rect x="452" y="491.3" width="9" height="29.9" fill="#ee1111" stroke="#000" stroke-width="1"/>
<rect x="465" y="491.3" width="9" height="22.1" fill="#ee1111" stroke="#000" stroke-width="1"/>
<rect x="478" y="491.3" width="9" height="10.2" fill="#ee1111" stroke="#000" stroke-width="1"/>
<rect x="490" y="489.5" width="9" height="1.8" fill="#2a9a10" stroke="#000" stroke-width="1"/>
<rect x="503" y="483.4" width="9" height="7.9" fill="#2a9a10" stroke="#000" stroke-width="1"/>
<rect x="516" y="479.3" width="9" height="12" fill="#2a9a10" stroke="#000" stroke-width="1"/>
<rect x="529" y="481.5" width="9" height="9.8" fill="#2a9a10" stroke="#000" stroke-width="1"/>
<rect x="542" y="479.3" width="9" height="12" fill="#2a9a10" stroke="#000" stroke-width="1"/>
<rect x="555" y="483.4" width="9" height="7.9" fill="#2a9a10" stroke="#000" stroke-width="1"/>
<rect x="568" y="471.2" width="9" height="20.1" fill="#2a9a10" stroke="#000" stroke-width="1"/>
<rect x="581" y="476.4" width="9" height="14.9" fill="#2a9a10" stroke="#000" stroke-width="1"/>
<rect x="593" y="482.6" width="9" height="8.7" fill="#2a9a10" stroke="#000" stroke-width="1"/>
<rect x="606" y="489.5" width="9" height="1.8" fill="#2a9a10" stroke="#000" stroke-width="1"/>
<rect x="619" y="491.3" width="9" height="1" fill="#ee1111" stroke="#000" stroke-width="1"/>
<rect x="632" y="488.5" width="9" height="2.8" fill="#2a9a10" stroke="#000" stroke-width="1"/>
<rect x="645" y="483.4" width="9" height="7.9" fill="#2a9a10" stroke="#000" stroke-width="1"/>
<rect x="658" y="477.2" width="9" height="14.1" fill="#2a9a10" stroke="#000" stroke-width="1"/>
<rect x="671" y="483.4" width="9" height="7.9" fill="#2a9a10" stroke="#000" stroke-width="1"/>
<rect x="684" y="480.4" width="9" height="10.9" fill="#2a9a10" stroke="#000" stroke-width="1"/>
<rect x="696" y="471.2" width="9" height="20.1" fill="#2a9a10" stroke="#000" stroke-width="1"/>
<rect x="709" y="480.4" width="9" height="10.9" fill="#2a9a10" stroke="#000" stroke-width="1"/>
<rect x="722" y="485.5" width="9" height="5.8" fill="#2a9a10" stroke="#000" stroke-width="1"/>
<rect x="735" y="491.3" width="9" height="4.1" fill="#ee1111" stroke="#000" stroke-width="1"/>
<rect x="748" y="491.3" width="9" height="15.8" fill="#ee1111" stroke="#000" stroke-width="1"/>
<rect x="761" y="491.3" width="9" height="24.8" fill="#ee1111" stroke="#000" stroke-width="1"/>
<rect x="774" y="491.3" width="9" height="31.9" fill="#ee1111" stroke="#000" stroke-width="1"/>
<rect x="787" y="491.3" width="9" height="39.9" fill="#ee1111" stroke="#000" stroke-width="1"/>
<rect x="799" y="491.3" width="9" height="40.9" fill="#ee1111" stroke="#000" stroke-width="1"/>
<rect x="812" y="491.3" width="9" height="34.9" fill="#ee1111" stroke="#000" stroke-width="1"/>
<rect x="825" y="491.3" width="9" height="24.8" fill="#ee1111" stroke="#000" stroke-width="1"/>
<rect x="838" y="491.3" width="9" height="23.8" fill="#ee1111" stroke="#000" stroke-width="1"/>
<rect x="851" y="491.3" width="9" height="18.8" fill="#ee1111" stroke="#000" stroke-width="1"/>
<rect x="864" y="491.3" width="9" height="11" fill="#ee1111" stroke="#000" stroke-width="1"/>
<rect x="877" y="491.3" width="9" height="12.8" fill="#ee1111" stroke="#000" stroke-width="1"/>
<line x1="70" y1="491.3" x2="895" y2="491.3" stroke="#000" stroke-width="1.2"/>
<g font-family='"Liberation Sans", sans-serif'>
<text x="80.5" y="482.5" font-size="12.5" fill="#c4c4c4" stroke="#c4c4c4" stroke-width="0.15" text-anchor="start" textLength="95.5" lengthAdjust="spacingAndGlyphs" >Histgrama MACD</text>
<text x="67" y="481.8" font-size="12" fill="#000" stroke="#000" stroke-width="0.15" text-anchor="end" >0,49</text>
<text x="67" y="565" font-size="12" fill="#000" stroke="#000" stroke-width="0.15" text-anchor="end" >-1,58</text>
<text x="897.5" y="478" font-size="12" fill="#000" stroke="#000" stroke-width="0.15" text-anchor="start" >Macd</text>
<text x="897.5" y="489" font-size="12" fill="#000" stroke="#000" stroke-width="0.15" text-anchor="start" >Forest</text>
<text x="897.5" y="500.5" font-size="12" fill="#000" stroke="#000" stroke-width="0.15" text-anchor="start" textLength="47" lengthAdjust="spacingAndGlyphs" >26,12,26</text>
</g>
<rect x="20.5" y="570.5" width="923" height="99" fill="none" stroke="#000" stroke-width="1"/>
<rect x="70.5" y="572.5" width="823" height="94.5" fill="none" stroke="#999" stroke-width="1"/>
<line x1="95.5" y1="573" x2="95.5" y2="667" stroke="#8a8a8a" stroke-width="1" stroke-dasharray="3 3"/>
<line x1="134.5" y1="573" x2="134.5" y2="667" stroke="#8a8a8a" stroke-width="1" stroke-dasharray="3 3"/>
<line x1="173.5" y1="573" x2="173.5" y2="667" stroke="#8a8a8a" stroke-width="1" stroke-dasharray="3 3"/>
<line x1="211.5" y1="573" x2="211.5" y2="667" stroke="#8a8a8a" stroke-width="1" stroke-dasharray="3 3"/>
<line x1="250.5" y1="573" x2="250.5" y2="667" stroke="#8a8a8a" stroke-width="1" stroke-dasharray="3 3"/>
<line x1="288.5" y1="573" x2="288.5" y2="667" stroke="#8a8a8a" stroke-width="1" stroke-dasharray="3 3"/>
<line x1="327.5" y1="573" x2="327.5" y2="667" stroke="#8a8a8a" stroke-width="1" stroke-dasharray="3 3"/>
<line x1="366.5" y1="573" x2="366.5" y2="667" stroke="#8a8a8a" stroke-width="1" stroke-dasharray="3 3"/>
<line x1="404.5" y1="573" x2="404.5" y2="667" stroke="#8a8a8a" stroke-width="1" stroke-dasharray="3 3"/>
<line x1="443.5" y1="573" x2="443.5" y2="667" stroke="#8a8a8a" stroke-width="1" stroke-dasharray="3 3"/>
<line x1="482.5" y1="573" x2="482.5" y2="667" stroke="#8a8a8a" stroke-width="1" stroke-dasharray="3 3"/>
<line x1="520.5" y1="573" x2="520.5" y2="667" stroke="#8a8a8a" stroke-width="1" stroke-dasharray="3 3"/>
<line x1="559.5" y1="573" x2="559.5" y2="667" stroke="#8a8a8a" stroke-width="1" stroke-dasharray="3 3"/>
<line x1="585.5" y1="573" x2="585.5" y2="667" stroke="#8a8a8a" stroke-width="1" stroke-dasharray="3 3"/>
<line x1="623.5" y1="573" x2="623.5" y2="667" stroke="#8a8a8a" stroke-width="1" stroke-dasharray="3 3"/>
<line x1="662.5" y1="573" x2="662.5" y2="667" stroke="#8a8a8a" stroke-width="1" stroke-dasharray="3 3"/>
<line x1="700.5" y1="573" x2="700.5" y2="667" stroke="#8a8a8a" stroke-width="1" stroke-dasharray="3 3"/>
<line x1="739.5" y1="573" x2="739.5" y2="667" stroke="#8a8a8a" stroke-width="1" stroke-dasharray="3 3"/>
<line x1="778.5" y1="573" x2="778.5" y2="667" stroke="#8a8a8a" stroke-width="1" stroke-dasharray="3 3"/>
<line x1="816.5" y1="573" x2="816.5" y2="667" stroke="#8a8a8a" stroke-width="1" stroke-dasharray="3 3"/>
<line x1="829.5" y1="573" x2="829.5" y2="667" stroke="#8a8a8a" stroke-width="1" stroke-dasharray="3 3"/>
<line x1="868.5" y1="573" x2="868.5" y2="667" stroke="#8a8a8a" stroke-width="1" stroke-dasharray="3 3"/>
<g font-family='"Liberation Sans", sans-serif'>
<text x="80.5" y="585.5" font-size="12.5" fill="#c4c4c4" stroke="#c4c4c4" stroke-width="0.15" text-anchor="start" textLength="106.5" lengthAdjust="spacingAndGlyphs" >Indice Calidad Vela</text>
</g>
<rect x="78" y="615" width="9" height="5" fill="#2b6bf3" stroke="#000" stroke-width="1"/>
<rect x="91" y="605" width="9" height="15" fill="#2b6bf3" stroke="#000" stroke-width="1"/>
<rect x="104" y="605" width="9" height="15" fill="#2b6bf3" stroke="#000" stroke-width="1"/>
<rect x="117" y="615" width="9" height="5" fill="#2b6bf3" stroke="#000" stroke-width="1"/>
<rect x="130" y="620" width="9" height="8.2" fill="#ee1a78" stroke="#000" stroke-width="1"/>
<rect x="143" y="605" width="9" height="15" fill="#2b6bf3" stroke="#000" stroke-width="1"/>
<rect x="156" y="610.5" width="9" height="9.5" fill="#2b6bf3" stroke="#000" stroke-width="1"/>
<rect x="169" y="620" width="9" height="8.2" fill="#ee1a78" stroke="#000" stroke-width="1"/>
<rect x="181" y="620" width="9" height="13.3" fill="#ee1a78" stroke="#000" stroke-width="1"/>
<rect x="194" y="620" width="9" height="8.2" fill="#ee1a78" stroke="#000" stroke-width="1"/>
<rect x="207" y="615" width="9" height="5" fill="#2b6bf3" stroke="#000" stroke-width="1"/>
<rect x="220" y="610.5" width="9" height="9.5" fill="#2b6bf3" stroke="#000" stroke-width="1"/>
<rect x="233" y="605" width="9" height="15" fill="#2b6bf3" stroke="#000" stroke-width="1"/>
<rect x="246" y="610.5" width="9" height="9.5" fill="#2b6bf3" stroke="#000" stroke-width="1"/>
<rect x="259" y="620" width="9" height="23.5" fill="#ee1a78" stroke="#000" stroke-width="1"/>
<rect x="272" y="620" width="9" height="3.3" fill="#ee1a78" stroke="#000" stroke-width="1"/>
<rect x="284" y="620" width="9" height="8.2" fill="#ee1a78" stroke="#000" stroke-width="1"/>
<rect x="297" y="615" width="9" height="5" fill="#2b6bf3" stroke="#000" stroke-width="1"/>
<rect x="310" y="620" width="9" height="8.2" fill="#ee1a78" stroke="#000" stroke-width="1"/>
<rect x="323" y="610.5" width="9" height="9.5" fill="#2b6bf3" stroke="#000" stroke-width="1"/>
<rect x="336" y="615" width="9" height="5" fill="#2b6bf3" stroke="#000" stroke-width="1"/>
<rect x="349" y="615" width="9" height="5" fill="#2b6bf3" stroke="#000" stroke-width="1"/>
<rect x="362" y="620" width="9" height="13.5" fill="#ee1a78" stroke="#000" stroke-width="1"/>
<rect x="375" y="620" width="9" height="23.5" fill="#ee1a78" stroke="#000" stroke-width="1"/>
<rect x="387" y="600.3" width="9" height="19.7" fill="#2b6bf3" stroke="#000" stroke-width="1"/>
<rect x="400" y="610.5" width="9" height="9.5" fill="#2b6bf3" stroke="#000" stroke-width="1"/>
<rect x="413" y="610.5" width="9" height="9.5" fill="#2b6bf3" stroke="#000" stroke-width="1"/>
<rect x="426" y="620" width="9" height="8.2" fill="#ee1a78" stroke="#000" stroke-width="1"/>
<rect x="439" y="610.5" width="9" height="9.5" fill="#2b6bf3" stroke="#000" stroke-width="1"/>
<rect x="452" y="605.1" width="9" height="14.9" fill="#2b6bf3" stroke="#000" stroke-width="1"/>
<rect x="465" y="610.5" width="9" height="9.5" fill="#2b6bf3" stroke="#000" stroke-width="1"/>
<rect x="478" y="605.1" width="9" height="14.9" fill="#2b6bf3" stroke="#000" stroke-width="1"/>
<rect x="490" y="605.1" width="9" height="14.9" fill="#2b6bf3" stroke="#000" stroke-width="1"/>
<rect x="503" y="620" width="9" height="13.5" fill="#ee1a78" stroke="#000" stroke-width="1"/>
<rect x="516" y="620" width="9" height="8.2" fill="#ee1a78" stroke="#000" stroke-width="1"/>
<rect x="529" y="620" width="9" height="13.5" fill="#ee1a78" stroke="#000" stroke-width="1"/>
<rect x="542" y="620" width="9" height="8.2" fill="#ee1a78" stroke="#000" stroke-width="1"/>
<rect x="555" y="620" width="9" height="13.5" fill="#ee1a78" stroke="#000" stroke-width="1"/>
<rect x="568" y="596.2" width="9" height="23.8" fill="#2b6bf3" stroke="#000" stroke-width="1"/>
<rect x="581" y="620" width="9" height="18.4" fill="#ee1a78" stroke="#000" stroke-width="1"/>
<rect x="593" y="620" width="9" height="3.3" fill="#ee1a78" stroke="#000" stroke-width="1"/>
<rect x="606" y="610.5" width="9" height="9.5" fill="#2b6bf3" stroke="#000" stroke-width="1"/>
<rect x="619" y="615" width="9" height="5" fill="#2b6bf3" stroke="#000" stroke-width="1"/>
<rect x="632" y="610.5" width="9" height="9.5" fill="#2b6bf3" stroke="#000" stroke-width="1"/>
<rect x="645" y="620" width="9" height="3.3" fill="#ee1a78" stroke="#000" stroke-width="1"/>
<rect x="658" y="615" width="9" height="5" fill="#2b6bf3" stroke="#000" stroke-width="1"/>
<rect x="671" y="620" width="9" height="13.5" fill="#ee1a78" stroke="#000" stroke-width="1"/>
<rect x="684" y="610.5" width="9" height="9.5" fill="#2b6bf3" stroke="#000" stroke-width="1"/>
<rect x="696" y="600.3" width="9" height="19.7" fill="#2b6bf3" stroke="#000" stroke-width="1"/>
<rect x="709" y="620" width="9" height="18.4" fill="#ee1a78" stroke="#000" stroke-width="1"/>
<rect x="722" y="620" width="9" height="8.2" fill="#ee1a78" stroke="#000" stroke-width="1"/>
<rect x="735" y="620" width="9" height="3.4" fill="#ee1a78" stroke="#000" stroke-width="1"/>
<rect x="748" y="620" width="9" height="3.4" fill="#ee1a78" stroke="#000" stroke-width="1"/>
<rect x="761" y="620" width="9" height="13.2" fill="#ee1a78" stroke="#000" stroke-width="1"/>
<rect x="774" y="620" width="9" height="3.4" fill="#ee1a78" stroke="#000" stroke-width="1"/>
<rect x="787" y="620" width="9" height="3.4" fill="#ee1a78" stroke="#000" stroke-width="1"/>
<rect x="799" y="615.5" width="9" height="4.5" fill="#2b6bf3" stroke="#000" stroke-width="1"/>
<rect x="812" y="605.6" width="9" height="14.4" fill="#2b6bf3" stroke="#000" stroke-width="1"/>
<rect x="825" y="610.7" width="9" height="9.3" fill="#2b6bf3" stroke="#000" stroke-width="1"/>
<rect x="838" y="620" width="9" height="8.2" fill="#ee1a78" stroke="#000" stroke-width="1"/>
<rect x="851" y="610.7" width="9" height="9.3" fill="#2b6bf3" stroke="#000" stroke-width="1"/>
<rect x="864" y="610.7" width="9" height="9.3" fill="#2b6bf3" stroke="#000" stroke-width="1"/>
<rect x="877" y="620" width="9" height="13.2" fill="#ee1a78" stroke="#000" stroke-width="1"/>
<line x1="70" y1="620" x2="895" y2="620" stroke="#000" stroke-width="1.2"/>
<polyline points="70.5,626.8 83,625.5" fill="none" stroke="#ee1111" stroke-width="2" stroke-linejoin="round"/>
<polyline points="83,625.5 95.75,615.9 459.7,615.9 470,613 482,610.8 494.9,610.5 501.6,613.2 520.5,616 546.2,616" fill="none" stroke="#2a9a10" stroke-width="2" stroke-linejoin="round"/>
<polyline points="546.2,616 559.7,626.8" fill="none" stroke="#ee1111" stroke-width="2" stroke-linejoin="round"/>
<polyline points="559.7,626.8 573.2,616 752.2,616" fill="none" stroke="#2a9a10" stroke-width="2" stroke-linejoin="round"/>
<polyline points="752.2,616 766,625.7 791.3,627" fill="none" stroke="#ee1111" stroke-width="2" stroke-linejoin="round"/>
<polyline points="791.3,627 804,616 882.1,616" fill="none" stroke="#2a9a10" stroke-width="2" stroke-linejoin="round"/>
<g font-family='"Liberation Sans", sans-serif'>
<text x="66.5" y="584.8" font-size="12" fill="#000" stroke="#000" stroke-width="0.15" text-anchor="end" >10</text>
<text x="66.5" y="619.8" font-size="12" fill="#000" stroke="#000" stroke-width="0.15" text-anchor="end" >0</text>
<text x="67" y="667.6" font-size="12" fill="#000" stroke="#000" stroke-width="0.15" text-anchor="end" >-10</text>
<text x="897.5" y="582" font-size="12" fill="#000" stroke="#000" stroke-width="0.15" text-anchor="start" >ICV</text>
<text x="897.5" y="593" font-size="12" fill="#000" stroke="#000" stroke-width="0.15" text-anchor="start" >5, 3, 1</text>
<text x="899" y="615.5" font-size="12" fill="#2020ee" stroke="#2020ee" stroke-width="0.15" text-anchor="start" >1</text>
<text x="899" y="634" font-size="12" fill="#2020ee" stroke="#2020ee" stroke-width="0.15" text-anchor="start" >-3</text>
</g>
<rect x="20.5" y="673.5" width="923" height="99" fill="none" stroke="#000" stroke-width="1"/>
<rect x="70.5" y="675.5" width="823" height="94.5" fill="none" stroke="#999" stroke-width="1"/>
<line x1="95.5" y1="676" x2="95.5" y2="770" stroke="#8a8a8a" stroke-width="1" stroke-dasharray="3 3"/>
<line x1="134.5" y1="676" x2="134.5" y2="770" stroke="#8a8a8a" stroke-width="1" stroke-dasharray="3 3"/>
<line x1="173.5" y1="676" x2="173.5" y2="770" stroke="#8a8a8a" stroke-width="1" stroke-dasharray="3 3"/>
<line x1="211.5" y1="676" x2="211.5" y2="770" stroke="#8a8a8a" stroke-width="1" stroke-dasharray="3 3"/>
<line x1="250.5" y1="676" x2="250.5" y2="770" stroke="#8a8a8a" stroke-width="1" stroke-dasharray="3 3"/>
<line x1="288.5" y1="676" x2="288.5" y2="770" stroke="#8a8a8a" stroke-width="1" stroke-dasharray="3 3"/>
<line x1="327.5" y1="676" x2="327.5" y2="770" stroke="#8a8a8a" stroke-width="1" stroke-dasharray="3 3"/>
<line x1="366.5" y1="676" x2="366.5" y2="770" stroke="#8a8a8a" stroke-width="1" stroke-dasharray="3 3"/>
<line x1="404.5" y1="676" x2="404.5" y2="770" stroke="#8a8a8a" stroke-width="1" stroke-dasharray="3 3"/>
<line x1="443.5" y1="676" x2="443.5" y2="770" stroke="#8a8a8a" stroke-width="1" stroke-dasharray="3 3"/>
<line x1="482.5" y1="676" x2="482.5" y2="770" stroke="#8a8a8a" stroke-width="1" stroke-dasharray="3 3"/>
<line x1="520.5" y1="676" x2="520.5" y2="770" stroke="#8a8a8a" stroke-width="1" stroke-dasharray="3 3"/>
<line x1="559.5" y1="676" x2="559.5" y2="770" stroke="#8a8a8a" stroke-width="1" stroke-dasharray="3 3"/>
<line x1="585.5" y1="676" x2="585.5" y2="770" stroke="#8a8a8a" stroke-width="1" stroke-dasharray="3 3"/>
<line x1="623.5" y1="676" x2="623.5" y2="770" stroke="#8a8a8a" stroke-width="1" stroke-dasharray="3 3"/>
<line x1="662.5" y1="676" x2="662.5" y2="770" stroke="#8a8a8a" stroke-width="1" stroke-dasharray="3 3"/>
<line x1="700.5" y1="676" x2="700.5" y2="770" stroke="#8a8a8a" stroke-width="1" stroke-dasharray="3 3"/>
<line x1="739.5" y1="676" x2="739.5" y2="770" stroke="#8a8a8a" stroke-width="1" stroke-dasharray="3 3"/>
<line x1="778.5" y1="676" x2="778.5" y2="770" stroke="#8a8a8a" stroke-width="1" stroke-dasharray="3 3"/>
<line x1="816.5" y1="676" x2="816.5" y2="770" stroke="#8a8a8a" stroke-width="1" stroke-dasharray="3 3"/>
<line x1="829.5" y1="676" x2="829.5" y2="770" stroke="#8a8a8a" stroke-width="1" stroke-dasharray="3 3"/>
<line x1="868.5" y1="676" x2="868.5" y2="770" stroke="#8a8a8a" stroke-width="1" stroke-dasharray="3 3"/>
<g font-family='"Liberation Sans", sans-serif'>
<text x="80.5" y="688" font-size="12.5" fill="#c4c4c4" stroke="#c4c4c4" stroke-width="0.15" text-anchor="start" textLength="87.5" lengthAdjust="spacingAndGlyphs" >Full Estocastico</text>
</g>
<line x1="71" y1="713.5" x2="894" y2="713.5" stroke="#e81010" stroke-width="1" stroke-dasharray="3 3"/>
<line x1="71" y1="732.5" x2="894" y2="732.5" stroke="#147a14" stroke-width="1" stroke-dasharray="3 3"/>
<clipPath id="cpSt"><rect x="71" y="676" width="822" height="94"/></clipPath>
<g clip-path="url(#cpSt)">
<polyline points="70,691.1 82.88,698.3 95.75,705.1 108.63,714.6 121.51,718.6 134.38,720.5 147.26,718.6 160.14,715 173.01,711.9 185.89,707.3 198.76,706.5 211.64,707.8 224.52,710 237.39,711.9 250.27,711.1 263.15,710.5 276.02,710.5 288.9,711.1 301.78,714.6 314.65,721.4 327.53,729 340.41,737.6 353.28,745.7 366.16,750.3 379.04,753.2 391.91,755.1 404.79,755.4 417.67,755.7 430.54,755.1 443.42,753.8 456.3,751.1 469.17,748.4 482.05,743.5 494.92,738.9 507.8,734.3 520.68,730.8 533.55,727.3 546.43,724.1 559.31,722.7 572.18,722.7 585.06,722.7 597.94,723.5 610.81,725.4 623.69,727.3 636.57,728.1 649.44,728.9 662.32,727.3 675.2,725.9 688.07,724.1 700.95,719.2 713.83,715.9 726.7,713.8 739.58,713.8 752.45,715.9 765.33,720.8 778.21,727.6 791.08,737.6 803.96,745.1 816.84,750.5 829.71,753.5 842.59,755 855.47,753.1 868.34,749.8 881.22,746.4" fill="none" stroke="#c8c8c8" stroke-width="2" stroke-dasharray="5 3"/>
<polyline points="70,714.6 82.88,727.6 95.75,731.4 108.63,725.9 121.51,716" fill="none" stroke="#2c1a8c" stroke-width="2" stroke-linejoin="round"/>
<polyline points="121.51,716 134.38,711.1 147.26,708.6 160.14,705.7 173.01,701.9 185.89,703 198.76,709.2" fill="none" stroke="#2a9a10" stroke-width="2" stroke-linejoin="round"/>
<polyline points="198.76,709.2 211.64,718.6 224.52,721.9 237.39,714.6" fill="none" stroke="#2c1a8c" stroke-width="2" stroke-linejoin="round"/>
<polyline points="237.39,714.6 250.27,703.8 263.15,698.6 276.02,705.1" fill="none" stroke="#2a9a10" stroke-width="2" stroke-linejoin="round"/>
<polyline points="276.02,705.1 288.9,720" fill="none" stroke="#2c1a8c" stroke-width="2" stroke-linejoin="round"/>
<polyline points="288.9,720 301.78,738.1 314.65,750.5 327.53,757 340.41,756 353.28,751.6 366.16,749.7 379.04,754.3 391.91,758.6 404.79,759.7 417.67,755.1 430.54,748.9 443.42,745.7 456.3,743.5 469.17,738.9 482.05,733.5" fill="none" stroke="#ee1111" stroke-width="2" stroke-linejoin="round"/>
<polyline points="482.05,733.5 494.92,727.3 507.8,721.9 520.68,718.6 533.55,720 546.43,722.7 559.31,727 572.18,724.9 585.06,724.9 597.94,722.7 610.81,728.1 623.69,732.7" fill="none" stroke="#2c1a8c" stroke-width="2" stroke-linejoin="round"/>
<polyline points="623.69,732.7 636.57,734.9" fill="none" stroke="#ee1111" stroke-width="2" stroke-linejoin="round"/>
<polyline points="636.57,734.9 649.44,729.5 662.32,719.2" fill="none" stroke="#2c1a8c" stroke-width="2" stroke-linejoin="round"/>
<polyline points="662.32,719.2 675.2,713.8 688.07,711.9 700.95,712.7 713.83,711.1 726.7,711.9" fill="none" stroke="#2a9a10" stroke-width="2" stroke-linejoin="round"/>
<polyline points="726.7,711.9 739.58,721.4 752.45,731.6" fill="none" stroke="#2c1a8c" stroke-width="2" stroke-linejoin="round"/>
<polyline points="752.45,731.6 765.33,745.1 778.21,752.4 791.08,757.8 803.96,758.6 816.84,757.8 829.71,752.4 842.59,747 855.47,741.9 868.34,740.7 881.22,740.9" fill="none" stroke="#ee1111" stroke-width="2" stroke-linejoin="round"/>
</g>
<g font-family='"Liberation Sans", sans-serif'>
<text x="67" y="687.5" font-size="12" fill="#000" stroke="#000" stroke-width="0.15" text-anchor="end" >100</text>
<text x="66.5" y="712.5" font-size="12" fill="#000" stroke="#000" stroke-width="0.15" text-anchor="end" >60</text>
<text x="66.5" y="732" font-size="12" fill="#000" stroke="#000" stroke-width="0.15" text-anchor="end" >40</text>
<text x="67" y="770.8" font-size="12" fill="#000" stroke="#000" stroke-width="0.15" text-anchor="end" >0</text>
<text x="897.5" y="683.8" font-size="12" fill="#000" stroke="#000" stroke-width="0.15" text-anchor="start" textLength="38.5" lengthAdjust="spacingAndGlyphs" >EST. %</text>
<text x="897.5" y="694.8" font-size="12" fill="#000" stroke="#000" stroke-width="0.15" text-anchor="start" >FULL</text>
<text x="897.5" y="705.8" font-size="12" fill="#000" stroke="#000" stroke-width="0.15" text-anchor="start" textLength="43" lengthAdjust="spacingAndGlyphs" >(28,3,6)</text>
<text x="899.5" y="740" font-size="12" fill="#2020ee" stroke="#2020ee" stroke-width="0.15" text-anchor="start" textLength="29" lengthAdjust="spacingAndGlyphs" >31,73</text>
</g>
<g font-family='"Liberation Sans", sans-serif'>
<text x="20" y="790" font-size="13" fill="#000" stroke="#000" stroke-width="0.3" text-anchor="start" textLength="102" lengthAdjust="spacingAndGlyphs" >CHEVRON (CVX)</text>
<text x="306.5" y="790" font-size="13" fill="#2222ee" stroke="#2222ee" stroke-width="0.3" text-anchor="start" textLength="575" lengthAdjust="spacingAndGlyphs" >/Users/mserra/Library/CloudStorage/Dropbox/WorkDB/DatosBolsa/Configs/Config.DEFAULT.xml</text>
</g>
<rect x="919.5" y="776.5" width="66" height="18" fill="#ee0000" stroke="#9a9a9a"/>
<g font-family='"Liberation Sans", sans-serif'>
<text x="923.2" y="789.6" font-size="13" fill="#fff" stroke="#fff" stroke-width="0.15" text-anchor="start" textLength="21.8" lengthAdjust="spacingAndGlyphs" >OFF</text>
</g>
<defs>
<linearGradient id="gBtn" x1="0" y1="0" x2="0" y2="1"><stop offset="0" stop-color="#e6e6e6"/><stop offset="1" stop-color="#f5f5f5"/></linearGradient>
<linearGradient id="gStep" x1="0" y1="0" x2="0" y2="1"><stop offset="0" stop-color="#3d8bfd"/><stop offset="1" stop-color="#1f6ef5"/></linearGradient>
<radialGradient id="gHelp" cx="0.45" cy="0.4" r="0.6"><stop offset="0" stop-color="#3b3bc0"/><stop offset="1" stop-color="#18187a"/></radialGradient>
<linearGradient id="gTrash" x1="0" y1="0" x2="0" y2="1"><stop offset="0" stop-color="#8c8c8c"/><stop offset="0.45" stop-color="#626262"/><stop offset="1" stop-color="#2c2c2c"/></linearGradient>
<linearGradient id="gFlop" x1="0" y1="0" x2="1" y2="1"><stop offset="0" stop-color="#b9d8f6"/><stop offset="1" stop-color="#e6f2fd"/></linearGradient>
<radialGradient id="gGear" cx="0.45" cy="0.4" r="0.65"><stop offset="0" stop-color="#e4e4e4"/><stop offset="0.6" stop-color="#b0b0b0"/><stop offset="1" stop-color="#777"/></radialGradient>
<radialGradient id="gDot" cx="0.5" cy="0.5" r="0.5"><stop offset="0" stop-color="#ffd0d0"/><stop offset="0.5" stop-color="#f04848"/><stop offset="1" stop-color="#e01010"/></radialGradient>
<radialGradient id="gEuro" cx="0.4" cy="0.4" r="0.7"><stop offset="0" stop-color="#f4f4f4"/><stop offset="1" stop-color="#8a8a8a"/></radialGradient>
<radialGradient id="gUsd" cx="0.4" cy="0.35" r="0.7"><stop offset="0" stop-color="#7ad060"/><stop offset="1" stop-color="#2f8a1c"/></radialGradient>
</defs>
<rect x="18.5" y="12.5" width="136" height="19" rx="5" fill="#fff" stroke="#d0d0d0" stroke-width="1"/>
<line x1="22" y1="31.6" x2="151" y2="31.6" stroke="#c4c4c4" stroke-width="0.8"/>
<rect x="136" y="14.5" width="16" height="15" rx="3.5" fill="url(#gStep)"/>
<polyline points="141,20 144,17.3 147,20" fill="none" stroke="#fff" stroke-width="1.3" stroke-linecap="round" stroke-linejoin="round"/>
<polyline points="141,23.6 144,26.3 147,23.6" fill="none" stroke="#fff" stroke-width="1.3" stroke-linecap="round" stroke-linejoin="round"/>
<text x="27.6" y="24.8" font-size="13.5" font-family='"Liberation Sans", sans-serif' fill="#1a1a1a" stroke="#1a1a1a" stroke-width="0.35" textLength="77.4" lengthAdjust="spacingAndGlyphs">CandleSticks</text>
<circle cx="173.8" cy="21.2" r="11.3" fill="#8d8df2"/>
<circle cx="173.8" cy="21.2" r="9.6" fill="url(#gHelp)"/>
<path d="M170.6,18.2 C170.6,15.6 172.3,14.4 174.2,14.4 C176.4,14.4 177.9,15.8 177.9,17.6 C177.9,19.6 176.2,20.3 175.2,21.2 C174.6,21.8 174.4,22.4 174.4,23.6" fill="none" stroke="#e4e4ff" stroke-width="2.9" stroke-linecap="round"/>
<circle cx="174.4" cy="26.9" r="1.75" fill="#c8c8ff"/>
<rect x="194.5" y="12.5" width="99" height="19" rx="5" fill="#fff" stroke="#d0d0d0" stroke-width="1"/>
<line x1="198" y1="31.6" x2="290" y2="31.6" stroke="#c4c4c4" stroke-width="0.8"/>
<rect x="275" y="14.5" width="16" height="15" rx="3.5" fill="url(#gStep)"/>
<polyline points="280,20 283,17.3 286,20" fill="none" stroke="#fff" stroke-width="1.3" stroke-linecap="round" stroke-linejoin="round"/>
<polyline points="280,23.6 283,26.3 286,23.6" fill="none" stroke="#fff" stroke-width="1.3" stroke-linecap="round" stroke-linejoin="round"/>
<text x="203.6" y="24.8" font-size="13.5" font-family='"Liberation Sans", sans-serif' fill="#1a1a1a" stroke="#1a1a1a" stroke-width="0.35" textLength="50" lengthAdjust="spacingAndGlyphs">3 mesos</text>
<rect x="304.0" y="12.5" width="90.5" height="19" rx="5" fill="#fff" stroke="#d0d0d0" stroke-width="1"/>
<line x1="307.5" y1="31.6" x2="391" y2="31.6" stroke="#c4c4c4" stroke-width="0.8"/>
<rect x="377" y="14.5" width="16" height="15" rx="3.5" fill="url(#gStep)"/>
<polyline points="382,20 385,17.3 388,20" fill="none" stroke="#fff" stroke-width="1.3" stroke-linecap="round" stroke-linejoin="round"/>
<polyline points="382,23.6 385,26.3 388,23.6" fill="none" stroke="#fff" stroke-width="1.3" stroke-linecap="round" stroke-linejoin="round"/>
<text x="312" y="24.8" font-size="13.5" font-family='"Liberation Sans", sans-serif' fill="#1a1a1a" stroke="#1a1a1a" stroke-width="0.35" textLength="17.8" lengthAdjust="spacingAndGlyphs">dia</text>
<rect x="404.5" y="12.5" width="19" height="17" fill="#fff" stroke="#333" stroke-width="1"/>
<rect x="405" y="13" width="18" height="4.5" fill="#111"/>
<polyline points="407,16 409,14.5 411,16 413,14.5 415,16 417,14.5 419,16 421,14.5" fill="none" stroke="#3c3" stroke-width="0.8"/>
<line x1="404.5" y1="18.5" x2="423.5" y2="18.5" stroke="#333" stroke-width="1"/>
<polyline points="407,26 410,23 413,25 416,21.5 420,22.5" fill="none" stroke="#2020d0" stroke-width="0.9"/>
<line x1="404" y1="30.5" x2="424" y2="30.5" stroke="#aaa" stroke-width="1"/>
<rect x="435" y="15" width="14.5" height="14.5" rx="3.5" fill="#2f7cf6"/>
<polyline points="438.5,22.3 441.3,25.6 446,18.2" fill="none" stroke="#fff" stroke-width="1.9" stroke-linecap="round" stroke-linejoin="round"/>
<text x="455.6" y="27" font-size="13.5" font-family='"Liberation Sans", sans-serif' fill="#1a1a1a" stroke="#1a1a1a" stroke-width="0.35" textLength="33" lengthAdjust="spacingAndGlyphs">Guies</text>
<rect x="505.5" y="15.5" width="13.5" height="13.5" rx="3.5" fill="#fff" stroke="#b4b4b4" stroke-width="1"/>
<text x="525.6" y="27" font-size="13.5" font-family='"Liberation Sans", sans-serif' fill="#1a1a1a" stroke="#1a1a1a" stroke-width="0.35" textLength="40" lengthAdjust="spacingAndGlyphs">Cursor</text>
<path d="M587,10.5 L589.4,31.5 Q597,35 605.4,31.5 L607,10.5 Z" fill="url(#gTrash)"/>
<ellipse cx="597" cy="10.5" rx="10" ry="3" fill="#a6a6a6" stroke="#707070" stroke-width="0.8"/>
<ellipse cx="597" cy="11" rx="8" ry="1.8" fill="#8e8e8e"/>
<path d="M591,26 Q597,22 604,25" fill="none" stroke="#777" stroke-width="1" opacity="0.7"/>
<rect x="623.5" y="7.5" width="19.5" height="25.5" fill="#e3ecfc" stroke="#8bb0f2" stroke-width="1"/>
<path d="M628.5,10.5 Q633,17 644,29" fill="none" stroke="#8a0000" stroke-width="6" stroke-linecap="round"/>
<path d="M644.5,15 Q633,20 622,30.5" fill="none" stroke="#8a0000" stroke-width="6" stroke-linecap="round"/>
<path d="M628.5,10.5 Q633,17 644,29" fill="none" stroke="#d41a1a" stroke-width="3.6" stroke-linecap="round"/>
<path d="M644.5,15 Q633,20 622,30.5" fill="none" stroke="#d41a1a" stroke-width="3.6" stroke-linecap="round"/>
<path d="M629.5,11.5 Q632,15 635,18.5" fill="none" stroke="#f06060" stroke-width="1.2" stroke-linecap="round"/>
<circle cx="672" cy="18" r="8" fill="#fafbe0" stroke="#e8eab0" stroke-width="1.2"/>
<rect x="656.5" y="16" width="22.5" height="16" rx="1.5" fill="#f2f2f2" stroke="#555" stroke-width="1"/>
<rect x="657" y="16.5" width="7" height="15" fill="#6a6a6a"/>
<rect x="658" y="14" width="4" height="2.5" fill="#333"/>
<circle cx="671.5" cy="25.5" r="4.6" fill="#e8eedc" stroke="#444" stroke-width="1.2"/>
<circle cx="671.5" cy="26" r="2.8" fill="#7d8f4a"/>
<rect x="669" y="16.8" width="6" height="2.6" rx="1" fill="#fff" stroke="#555" stroke-width="0.7"/>
<rect x="694.3" y="11.2" width="20.5" height="20.5" fill="#3c3cb8" stroke="#2a2a90" stroke-width="0.6"/>
<rect x="698" y="12" width="13" height="9.5" fill="url(#gFlop)"/>
<rect x="712" y="12.2" width="1.8" height="1.8" fill="#fff"/>
<rect x="698" y="25" width="13" height="6.5" fill="#c8c8c8"/>
<rect x="699.5" y="25.8" width="2.5" height="5.5" fill="#3c3cb8"/>
<path d="M728.5,28.5 L728.5,14.5 L730,13.2 L735.5,13.2 L737.5,15.6 L745.5,15.6 L745.5,20.3" fill="#fbf2de" stroke="#c2905a" stroke-width="1"/>
<path d="M730,28.5 L736.5,20.3 L749.5,20.3 L743.5,28.5 Z" fill="#f9ebcc" stroke="#c2905a" stroke-width="1" stroke-linejoin="round"/>
<g transform="rotate(0 775 20)">
<path d="M766.3,19 A9,7.6 0 0 1 782.6,14.6" fill="none" stroke="#3f9f25" stroke-width="4.4"/>
<path d="M766.3,19 A9,7.6 0 0 1 782.6,14.6" fill="none" stroke="#66c844" stroke-width="2.8"/>
<path d="M786.6,10.6 L787,19 L778.8,18.2 Z" fill="#5cbf3a" stroke="#3f9f25" stroke-width="0.8" stroke-linejoin="round"/>
</g>
<g transform="rotate(180 775 20)">
<path d="M766.3,19 A9,7.6 0 0 1 782.6,14.6" fill="none" stroke="#3f9f25" stroke-width="4.4"/>
<path d="M766.3,19 A9,7.6 0 0 1 782.6,14.6" fill="none" stroke="#66c844" stroke-width="2.8"/>
<path d="M786.6,10.6 L787,19 L778.8,18.2 Z" fill="#5cbf3a" stroke="#3f9f25" stroke-width="0.8" stroke-linejoin="round"/>
</g>
<ellipse cx="809.5" cy="31.5" rx="12" ry="1.6" fill="#222"/>
<circle cx="811.4" cy="20" r="10.8" fill="url(#gUsd)"/>
<path d="M816,12.5 C812,10.5 806,11.5 806,15.5 C806,19 812,19.5 814,21.5 C816,23.5 813,27 809,25.5 L807,24.5 L806.5,29 C810,31 817,30 817.5,25 C818,20.5 811,19.5 809.5,17.5 C808.5,15.5 812,14.5 815,16 Z" fill="#ececec" stroke="#bbb" stroke-width="0.5"/>
<circle cx="845.5" cy="20.5" r="6.2" fill="#4a4a4a"/>
<path d="M853.5,14.5 A9.6,9.8 0 1 0 855.5,27.5" fill="none" stroke="#3a3a3a" stroke-width="5" transform="translate(1.2,1.4)"/>
<path d="M853.5,14.5 A9.6,9.8 0 1 0 855.5,27.5" fill="none" stroke="#777" stroke-width="5.8"/>
<path d="M853.5,14.5 A9.6,9.8 0 1 0 855.5,27.5" fill="none" stroke="#f0f0f0" stroke-width="4.2"/>
<rect x="833.5" y="15.8" width="15.5" height="2.6" fill="#f4f4f4" stroke="#666" stroke-width="0.7"/>
<rect x="833" y="20.4" width="15" height="2.6" fill="#f4f4f4" stroke="#666" stroke-width="0.7"/>
<polygon points="889.13,16.87 892.45,17.41 892.45,22.59 889.13,23.13 888.62,23.95 888.38,24.95 890.34,27.68 886.68,31.34 883.95,29.38 883.01,29.60 882.13,30.13 881.59,33.45 876.41,33.45 875.87,30.13 875.05,29.62 874.05,29.38 871.32,31.34 867.66,27.68 869.62,24.95 869.40,24.01 868.87,23.13 865.55,22.59 865.55,17.41 868.87,16.87 869.38,16.05 869.62,15.05 867.66,12.32 871.32,8.66 874.05,10.62 874.99,10.40 875.87,9.87 876.41,6.55 881.59,6.55 882.13,9.87 882.95,10.38 883.95,10.62 886.68,8.66 890.34,12.32 888.38,15.05 888.60,15.99" fill="url(#gGear)" stroke="#3c3c3c" stroke-width="1" stroke-linejoin="round"/>
<circle cx="879" cy="20" r="5.8" fill="none" stroke="#8a8a8a" stroke-width="1.2"/>
<circle cx="879" cy="20" r="2.3" fill="#fff" stroke="#333" stroke-width="1"/>
<g transform="rotate(-8 914 21)">
<rect x="903" y="10.5" width="21" height="21" fill="#fff" stroke="#333" stroke-width="0.9"/>
<rect x="903" y="10.5" width="21" height="4.5" fill="#6cc81e"/>
<text x="913.5" y="28.8" font-size="12.5" font-family='"Liberation Sans", sans-serif' fill="#222" stroke="#222" stroke-width="0.4" text-anchor="middle">17</text>
</g>
<circle cx="968.8" cy="21.7" r="6.3" fill="#fff" stroke="#bdbdbd" stroke-width="1"/>
<rect x="953.5" y="36.5" width="32" height="21" fill="url(#gBtn)" stroke="#8e8e8e" stroke-width="1"/>
<rect x="961" y="39" width="16" height="16" fill="#f4f4f4"/>
<circle cx="966.3" cy="45" r="3.9" fill="#c8c8c8" stroke="#222" stroke-width="1.3"/>
<line x1="969.2" y1="47.9" x2="975.5" y2="53.5" stroke="#222" stroke-width="1.6" stroke-linecap="round"/>
<rect x="954" y="61.5" width="31" height="21" fill="url(#gBtn)"/>
<polyline points="956,61.5 953.5,61.5 953.5,82.5 956,82.5" fill="none" stroke="#8e8e8e" stroke-width="1"/>
<polyline points="983,61.5 985.5,61.5 985.5,82.5 983,82.5" fill="none" stroke="#8e8e8e" stroke-width="1"/>
<rect x="955" y="62" width="29" height="20" fill="#fafafa"/>
<path d="M955,82 L955,63.5 L956.6,66 L956.6,82 Z M958,82 L958,68 L959.4,67 L960.8,68 L960.8,79 L965,79 L966,72 L967.4,65 L968.6,72 L969.6,78 L970.8,80 L970.8,82 Z M971.6,82 L971.6,78 L972.6,78 L972.6,82 Z M978,82 L978,76 L980.6,72 L983,76 L983,82 Z M955,80 H984 V82 H955 Z" fill="#4a55aa"/>
<line x1="957.5" y1="62" x2="957.5" y2="82" stroke="#c4c4d4" stroke-width="0.9"/>
<line x1="971.5" y1="62" x2="971.5" y2="82" stroke="#c4c4d4" stroke-width="0.9"/>
<polyline points="955,66.6 956.5,69.2 958,69.6 960.5,69.2 963,68.6 967.4,68.6 968,69.5 969.4,66.5 970.5,68 972,68.8 973.5,69.4 974,68.4 976.4,72.5 978,69.6 979,68.5 980.6,68.6 982,69.4" fill="none" stroke="#e01818" stroke-width="1.1"/>
<rect x="953.5" y="85.5" width="32" height="21" fill="url(#gBtn)" stroke="#8e8e8e" stroke-width="1"/>
<line x1="957.2" y1="95.5" x2="981" y2="95.5" stroke="#e33" stroke-width="2.2"/>
<rect x="953.5" y="110.5" width="32" height="21" fill="url(#gBtn)" stroke="#8e8e8e" stroke-width="1"/>
<line x1="957.2" y1="120.5" x2="981" y2="120.5" stroke="#2a2af0" stroke-width="2.2"/>
<rect x="953.5" y="135.5" width="32" height="21" fill="url(#gBtn)" stroke="#8e8e8e" stroke-width="1"/>
<line x1="957.25" y1="151.4" x2="972.6" y2="135.4" stroke="#222" stroke-width="1" stroke-dasharray="1.2 0.6"/>
<line x1="965.4" y1="156.5" x2="980.7" y2="140.8" stroke="#222" stroke-width="1" stroke-dasharray="1.2 0.6"/>
<polyline points="965.6,156.5 962.7,147.3 970.5,150.5 970.5,143.5 975.4,145.6 973.1,136.7 978.9,139.5" fill="none" stroke="#5a4af0" stroke-width="1.1" stroke-linejoin="round"/>
<rect x="953.5" y="160.5" width="32" height="21" fill="url(#gBtn)" stroke="#8e8e8e" stroke-width="1"/>
<line x1="958" y1="181.8" x2="980" y2="160.2" stroke="#111" stroke-width="1.2"/>
<polyline points="961,173.5 966,173.5 966.5,178" fill="none" stroke="#3030e0" stroke-width="1.2"/>
<polyline points="973.5,160.5 972.5,166.5 978.5,166.5" fill="none" stroke="#3030e0" stroke-width="1.2"/>
<rect x="953.5" y="185.5" width="32" height="21" fill="url(#gBtn)" stroke="#8e8e8e" stroke-width="1"/>
<line x1="958.5" y1="206.8" x2="980" y2="185.2" stroke="#111" stroke-width="1.2"/>
<text x="958.5" y="197.5" font-size="10" font-weight="bold" font-family='"Liberation Sans", sans-serif' fill="#e02020">&#931;</text>
<polyline points="961,198.5 966,198.5 966.5,203" fill="none" stroke="#3030e0" stroke-width="1.2"/>
<polyline points="973.5,185.5 972.5,191.5 978.5,191.5" fill="none" stroke="#3030e0" stroke-width="1.2"/>
<rect x="953.5" y="210.5" width="32" height="21" fill="url(#gBtn)" stroke="#8e8e8e" stroke-width="1"/>
<path d="M968,214.5 H971.5 V218.2 H974.2 L969.7,225.8 L965.2,218.2 H968 Z" fill="#ee1a0a"/>
<rect x="953.5" y="235.5" width="32" height="21" fill="url(#gBtn)" stroke="#8e8e8e" stroke-width="1"/>
<path d="M969.7,240 L974.3,247.8 H971.4 V251.5 H968 V247.8 H965.1 Z" fill="#1a1aee"/>
<rect x="953.5" y="260.5" width="32" height="21" fill="url(#gBtn)" stroke="#8e8e8e" stroke-width="1"/>
<path d="M960.5,266 H963 V269.5 H966.5 V272 H963 V275.5 H960.5 V272 H957 V269.5 H960.5 Z" fill="#86c040" stroke="#6aa02a" stroke-width="0.4"/>
<path d="M970.2,266 H973.6 V269.5 H977.3 L971.9,276.5 L966.5,269.5 H970.2 Z" fill="#e82010"/>
<circle cx="981.2" cy="275.7" r="2.4" fill="#fff" stroke="#e82020" stroke-width="0.9"/>
<rect x="954" y="285.5" width="31" height="21" fill="url(#gBtn)"/>
<polyline points="956,285.5 953.5,285.5 953.5,306.5 956,306.5" fill="none" stroke="#8e8e8e" stroke-width="1"/>
<polyline points="983,285.5 985.5,285.5 985.5,306.5 983,306.5" fill="none" stroke="#8e8e8e" stroke-width="1"/>
<line x1="957" y1="291.8" x2="964" y2="291.8" stroke="#3c3c3c" stroke-width="1.6"/>
<line x1="966" y1="291.8" x2="973" y2="291.8" stroke="#3c3c3c" stroke-width="1.6"/>
<line x1="975" y1="291.8" x2="981" y2="291.8" stroke="#3c3c3c" stroke-width="1.6"/>
<line x1="957" y1="296.8" x2="964" y2="296.8" stroke="#3c3c3c" stroke-width="1.6"/>
<line x1="966" y1="296.8" x2="973" y2="296.8" stroke="#3c3c3c" stroke-width="1.6"/>
<line x1="975" y1="296.8" x2="981" y2="296.8" stroke="#3c3c3c" stroke-width="1.6"/>
<line x1="957" y1="301.8" x2="964" y2="301.8" stroke="#3c3c3c" stroke-width="1.6"/>
<line x1="966" y1="301.8" x2="973" y2="301.8" stroke="#3c3c3c" stroke-width="1.6"/>
<line x1="975" y1="301.8" x2="981" y2="301.8" stroke="#3c3c3c" stroke-width="1.6"/>
<rect x="954" y="311.5" width="31" height="21" fill="url(#gBtn)"/>
<polyline points="956,311.5 953.5,311.5 953.5,332.5 956,332.5" fill="none" stroke="#8e8e8e" stroke-width="1"/>
<polyline points="983,311.5 985.5,311.5 985.5,332.5 983,332.5" fill="none" stroke="#8e8e8e" stroke-width="1"/>
<line x1="956.1" y1="313.4" x2="971.9" y2="313.4" stroke="#1a1aee" stroke-width="1.3"/>
<line x1="956.1" y1="330.4" x2="971.9" y2="330.4" stroke="#1a1aee" stroke-width="1.3"/>
<line x1="963.5" y1="314" x2="963.5" y2="330" stroke="#1a1aee" stroke-width="1.2"/>
<path d="M961.5,313.5 H965.5 L967,317.8 H960 Z M961.5,330.3 H965.5 L967,326.2 H960 Z" fill="#1a1aee"/>
<line x1="973.6" y1="326.6" x2="980.7" y2="317" stroke="#111" stroke-width="1.2"/>
<ellipse cx="975.3" cy="317.6" rx="1.3" ry="1.8" fill="none" stroke="#111" stroke-width="1.1"/>
<ellipse cx="978.7" cy="327.4" rx="1.3" ry="1.8" fill="none" stroke="#111" stroke-width="1.1"/>
<rect x="953.5" y="335.5" width="32" height="21" fill="url(#gBtn)" stroke="#8e8e8e" stroke-width="1"/>
<line x1="958.4" y1="340.4" x2="971.1" y2="340.4" stroke="#2a6af6" stroke-width="1.3"/>
<line x1="958.4" y1="346.2" x2="971.1" y2="346.2" stroke="#111" stroke-width="1.8"/>
<line x1="958.4" y1="351.7" x2="971.1" y2="351.7" stroke="#ee4a3a" stroke-width="1.8"/>
<line x1="972.8" y1="352.6" x2="980.5" y2="340.1" stroke="#111" stroke-width="1.2"/>
<circle cx="975.1" cy="341.3" r="1.5" fill="none" stroke="#111" stroke-width="1.1"/>
<circle cx="978.9" cy="351.4" r="1.5" fill="none" stroke="#111" stroke-width="1.1"/>
<rect x="953.5" y="361.5" width="32" height="21" fill="url(#gBtn)" stroke="#8e8e8e" stroke-width="1"/>
<rect x="960.5" y="363" width="17.5" height="18.5" fill="#dcdce6"/>
<circle cx="969.2" cy="372" r="7" fill="none" stroke="#c82020" stroke-width="2.4"/>
<line x1="964.3" y1="367.1" x2="974.1" y2="376.9" stroke="#c82020" stroke-width="2.4"/>
<rect x="953.5" y="385.5" width="32" height="21" fill="url(#gBtn)" stroke="#8e8e8e" stroke-width="1"/>
<circle cx="969.2" cy="396" r="5.9" fill="url(#gDot)"/>
<rect x="953.5" y="408.5" width="32" height="21" fill="url(#gBtn)" stroke="#8e8e8e" stroke-width="1"/>
<path d="M962.5,417.5 C963.5,413 968.5,411.5 972,413 L973,411 L975.5,416.5 L969.5,417.5 L970.8,415.5 C968.5,414.8 965.5,415.5 964.5,418 Z" fill="#2a70d8"/>
<path d="M975.5,420.5 C974.5,425 969.5,426.5 966,425 L965,427 L962.5,421.5 L968.5,420.5 L967.2,422.5 C969.5,423.2 972.5,422.5 973.5,420 Z" fill="#2a70d8"/>
<circle cx="968.8" cy="472.7" r="6.3" fill="#fff" stroke="#bdbdbd" stroke-width="1"/>
<rect x="953.5" y="487.5" width="32" height="20.5" fill="#fbfbfb" stroke="#8e8e8e" stroke-width="1"/>
<path d="M962,492.9 H965.2 V495.9 H969.2 L963.6,502.5 L958,495.9 H962 Z" fill="#e0200e"/>
<path d="M976.5,492.7 L982.1,498.7 H978.1 V502.5 H975.1 V498.7 H970.8 Z" fill="#7cc43c"/>
<rect x="953.5" y="513.5" width="32" height="20.5" fill="url(#gBtn)" stroke="#8e8e8e" stroke-width="1"/>
<line x1="958.4" y1="518.4" x2="971.1" y2="518.4" stroke="#2a6af6" stroke-width="1.3"/>
<line x1="958.4" y1="524.2" x2="971.1" y2="524.2" stroke="#111" stroke-width="1.8"/>
<line x1="958.4" y1="529.7" x2="971.1" y2="529.7" stroke="#ee4a3a" stroke-width="1.8"/>
<line x1="972.8" y1="530.6" x2="980.5" y2="518.1" stroke="#111" stroke-width="1.2"/>
<circle cx="975.1" cy="519.3" r="1.5" fill="none" stroke="#111" stroke-width="1.1"/>
<circle cx="978.9" cy="529.4" r="1.5" fill="none" stroke="#111" stroke-width="1.1"/>
<rect x="953.5" y="541.5" width="32" height="20.5" fill="url(#gBtn)" stroke="#8e8e8e" stroke-width="1"/>
<line x1="955" y1="555.7" x2="984" y2="555.7" stroke="#3aa030" stroke-width="0.9" stroke-dasharray="2 2.5"/>
<line x1="977.6" y1="558.4" x2="977.6" y2="560.6" stroke="#5050b0" stroke-width="0.8"/>
<polyline points="955.2,545.2 959.4,547.1 967.3,559.8 971.6,554.6 977.4,542" fill="none" stroke="#1a1aee" stroke-width="1.9" stroke-linejoin="round"/>
<polyline points="955.2,545.2 960.3,546.6 969.7,556.5 974.4,555.1 981.6,542" fill="none" stroke="#dd1c1c" stroke-width="1.9" stroke-linejoin="round"/>
<circle cx="968.5" cy="580" r="5.3" fill="#fff" stroke="#2f7cf6" stroke-width="3.4"/>
<rect x="953.5" y="596.0" width="32" height="20.5" fill="#fbfbfb" stroke="#8e8e8e" stroke-width="1"/>
<path d="M962,601.4 H965.2 V604.4 H969.2 L963.6,611.0 L958,604.4 H962 Z" fill="#e0200e"/>
<path d="M976.5,601.2 L982.1,607.2 H978.1 V611.0 H975.1 V607.2 H970.8 Z" fill="#7cc43c"/>
<rect x="953.5" y="620.0" width="32" height="20.5" fill="url(#gBtn)" stroke="#8e8e8e" stroke-width="1"/>
<line x1="958.4" y1="624.9" x2="971.1" y2="624.9" stroke="#2a6af6" stroke-width="1.3"/>
<line x1="958.4" y1="630.7" x2="971.1" y2="630.7" stroke="#111" stroke-width="1.8"/>
<line x1="958.4" y1="636.2" x2="971.1" y2="636.2" stroke="#ee4a3a" stroke-width="1.8"/>
<line x1="972.8" y1="637.1" x2="980.5" y2="624.6" stroke="#111" stroke-width="1.2"/>
<circle cx="975.1" cy="625.8" r="1.5" fill="none" stroke="#111" stroke-width="1.1"/>
<circle cx="978.9" cy="635.9" r="1.5" fill="none" stroke="#111" stroke-width="1.1"/>
<rect x="953.5" y="643.5" width="32" height="20.5" fill="url(#gBtn)" stroke="#8e8e8e" stroke-width="1"/>
<line x1="955" y1="657.7" x2="984" y2="657.7" stroke="#3aa030" stroke-width="0.9" stroke-dasharray="2 2.5"/>
<line x1="977.6" y1="660.4" x2="977.6" y2="662.6" stroke="#5050b0" stroke-width="0.8"/>
<polyline points="955.2,647.2 959.4,649.1 967.3,661.8 971.6,656.6 977.4,644" fill="none" stroke="#1a1aee" stroke-width="1.9" stroke-linejoin="round"/>
<polyline points="955.2,647.2 960.3,648.6 969.7,658.5 974.4,657.1 981.6,644" fill="none" stroke="#dd1c1c" stroke-width="1.9" stroke-linejoin="round"/>
<circle cx="968.8" cy="683" r="6.3" fill="#fff" stroke="#bdbdbd" stroke-width="1"/>
<rect x="953.5" y="698.0" width="32" height="20.5" fill="#fbfbfb" stroke="#8e8e8e" stroke-width="1"/>
<path d="M962,703.4 H965.2 V706.4 H969.2 L963.6,713.0 L958,706.4 H962 Z" fill="#e0200e"/>
<path d="M976.5,703.2 L982.1,709.2 H978.1 V713.0 H975.1 V709.2 H970.8 Z" fill="#7cc43c"/>
<rect x="953.5" y="722.8" width="32" height="20.5" fill="url(#gBtn)" stroke="#8e8e8e" stroke-width="1"/>
<line x1="958.4" y1="727.6999999999999" x2="971.1" y2="727.6999999999999" stroke="#2a6af6" stroke-width="1.3"/>
<line x1="958.4" y1="733.5" x2="971.1" y2="733.5" stroke="#111" stroke-width="1.8"/>
<line x1="958.4" y1="739.0" x2="971.1" y2="739.0" stroke="#ee4a3a" stroke-width="1.8"/>
<line x1="972.8" y1="739.9" x2="980.5" y2="727.4" stroke="#111" stroke-width="1.2"/>
<circle cx="975.1" cy="728.5999999999999" r="1.5" fill="none" stroke="#111" stroke-width="1.1"/>
<circle cx="978.9" cy="738.6999999999999" r="1.5" fill="none" stroke="#111" stroke-width="1.1"/>
<rect x="953.5" y="747.8" width="32" height="20.5" fill="url(#gBtn)" stroke="#8e8e8e" stroke-width="1"/>
<line x1="955" y1="762.0" x2="984" y2="762.0" stroke="#3aa030" stroke-width="0.9" stroke-dasharray="2 2.5"/>
<line x1="977.6" y1="764.6999999999999" x2="977.6" y2="766.9" stroke="#5050b0" stroke-width="0.8"/>
<polyline points="955.2,751.5 959.4,753.4 967.3,766.0999999999999 971.6,760.9 977.4,748.3" fill="none" stroke="#1a1aee" stroke-width="1.9" stroke-linejoin="round"/>
<polyline points="955.2,751.5 960.3,752.9 969.7,762.8 974.4,761.4 981.6,748.3" fill="none" stroke="#dd1c1c" stroke-width="1.9" stroke-linejoin="round"/>
</svg>
</body></html>
